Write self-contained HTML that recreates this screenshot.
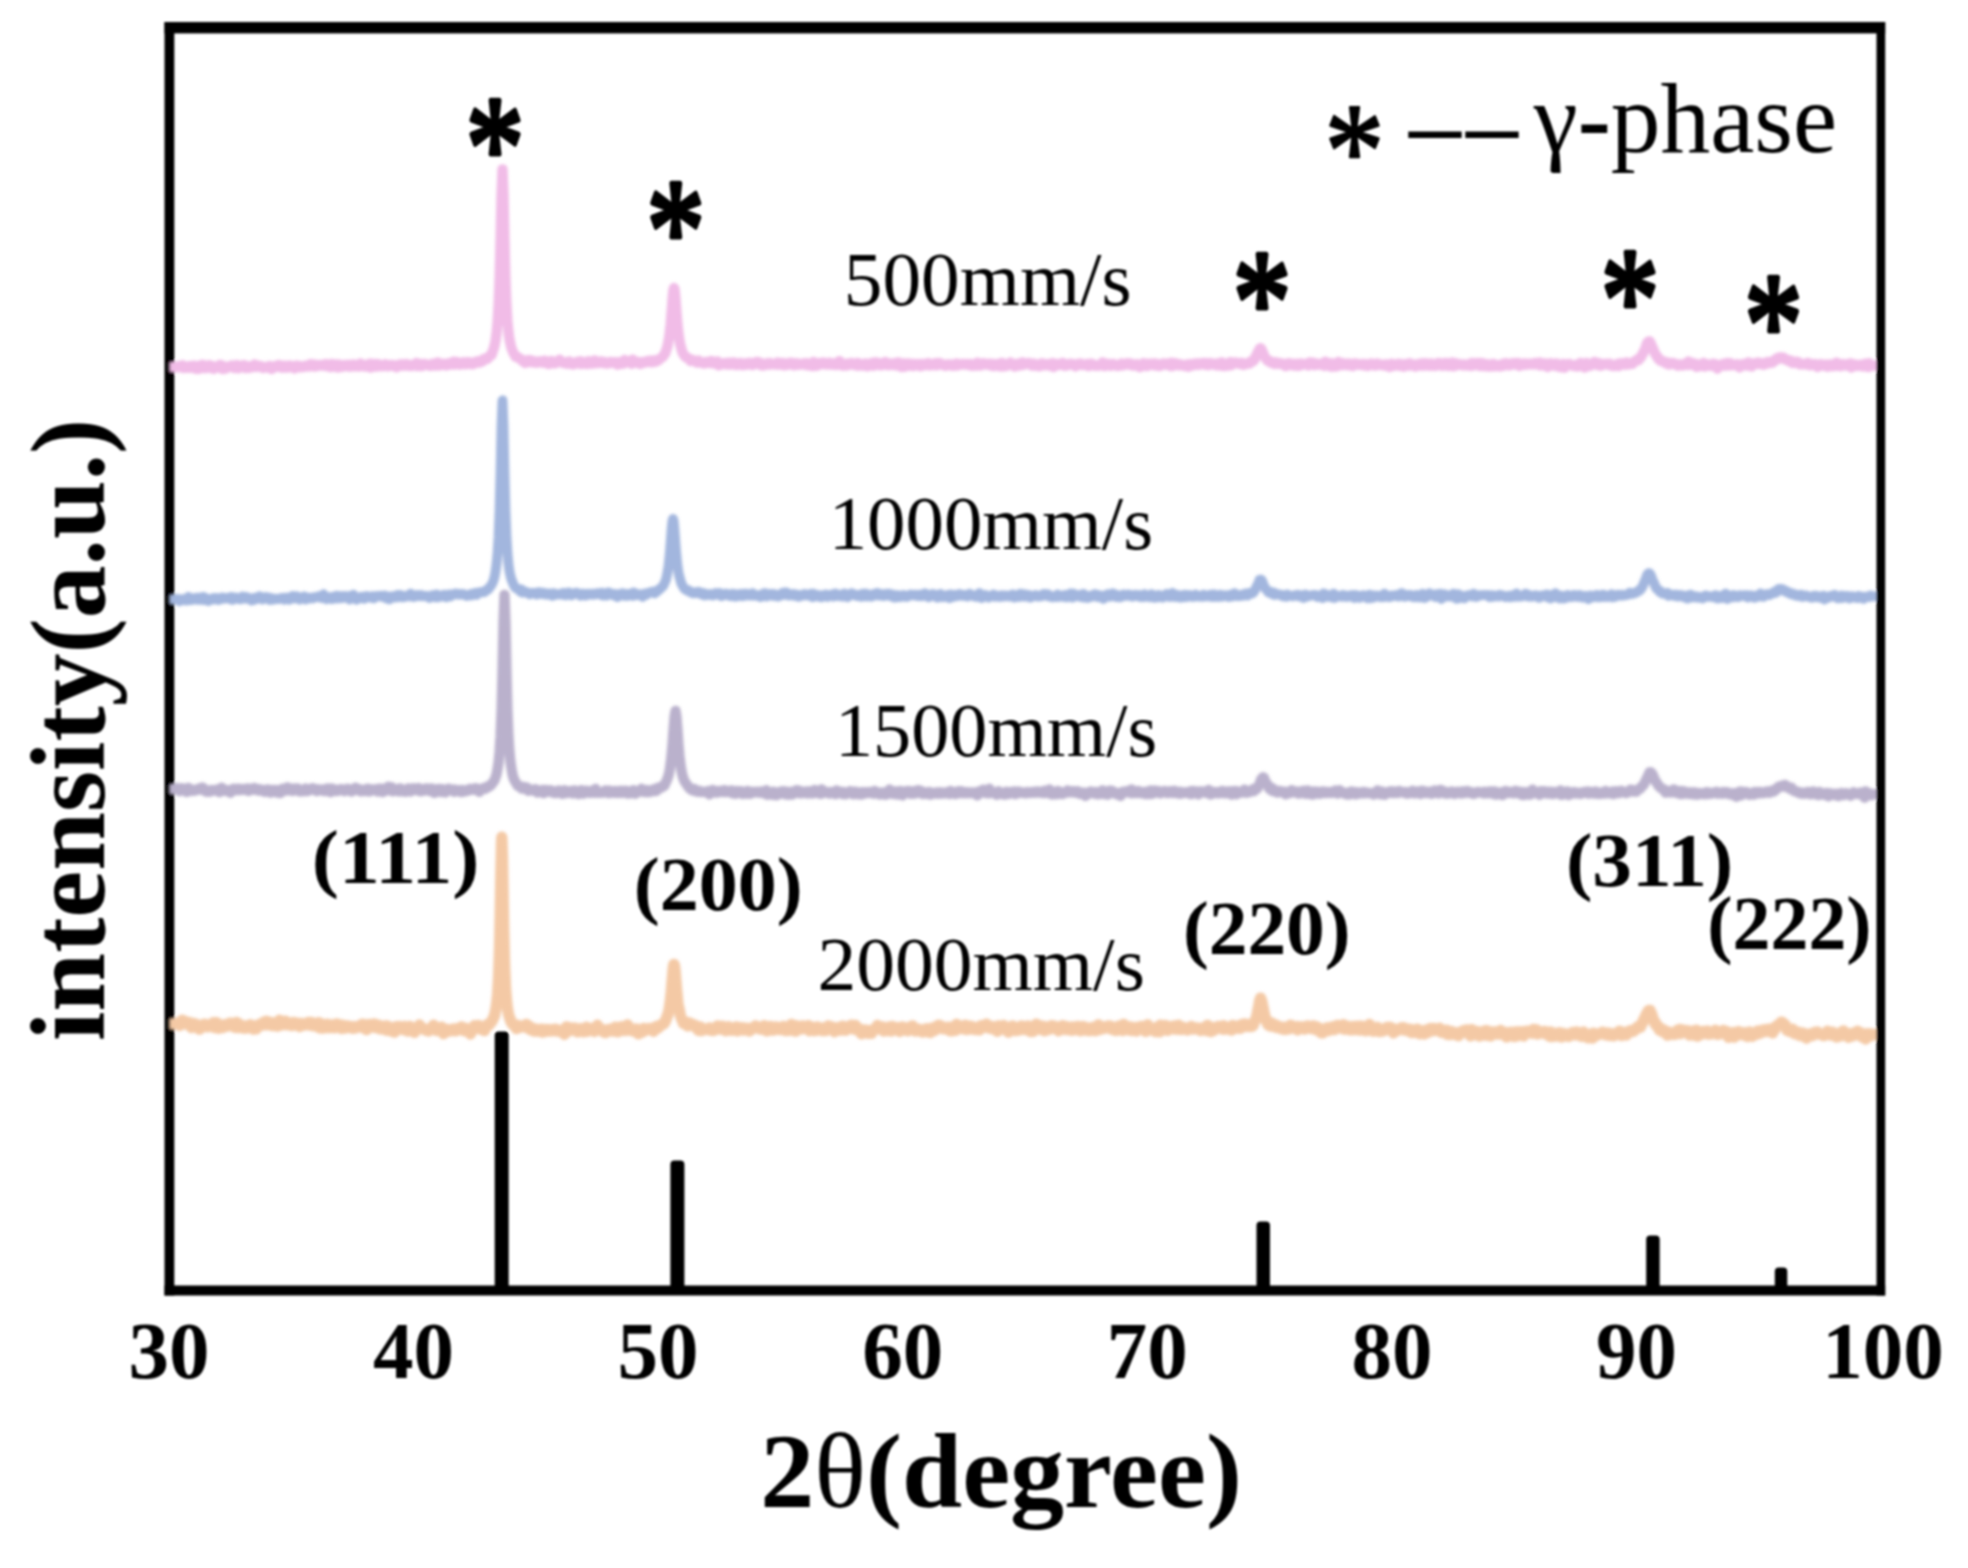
<!DOCTYPE html>
<html lang="en"><head><meta charset="utf-8"><title>XRD patterns</title>
<style>
html,body{margin:0;padding:0;background:#fff;}
body{width:1968px;height:1568px;overflow:hidden;}
svg{display:block;}
text{font-family:"Liberation Serif","DejaVu Serif",serif;fill:#000;}
.b{font-weight:bold;}
.tick{font-weight:bold;font-size:81px;text-anchor:middle;}
.ast{font-weight:normal;text-anchor:middle;}
.cv{fill:none;stroke-linejoin:round;stroke-linecap:butt;}
</style></head><body>
<svg width="1968" height="1568" viewBox="0 0 1968 1568">
<defs><filter id="cvb" x="0" y="0" width="1968" height="1568" filterUnits="userSpaceOnUse"><feGaussianBlur stdDeviation="0.9"/></filter><filter id="soft" x="0" y="0" width="1968" height="1568" filterUnits="userSpaceOnUse"><feGaussianBlur stdDeviation="1.0"/></filter></defs>
<rect width="1968" height="1568" fill="#fff"/>
<g filter="url(#soft)">
<rect x="164.5" y="22" width="9.8" height="1273.5" fill="#000"/>
<rect x="164.5" y="22" width="1720.7" height="11.4" fill="#000"/>
<rect x="164.5" y="1285.5" width="1720.7" height="10" fill="#000"/>
<rect x="494.7" y="1031.5" width="14.0" height="258.5" rx="4" fill="#000"/>
<rect x="670.4" y="1160.5" width="14.0" height="129.5" rx="4" fill="#000"/>
<rect x="1256.5" y="1221.5" width="13.5" height="68.5" rx="4" fill="#000"/>
<rect x="1646.2" y="1235.5" width="13.5" height="54.5" rx="4" fill="#000"/>
<rect x="1774.8" y="1267.5" width="12.5" height="22.5" rx="4" fill="#000"/>
<g filter="url(#cvb)">
<path class="cv" stroke="#f1bce7" stroke-width="10.3" d="M169.5 367.0L175.5 367.0L176.5 366.4L177.5 366.8L178.5 367.2L179.5 366.0L180.5 366.8L181.5 366.7L182.5 365.2L183.5 368.0L184.5 367.7L185.5 366.4L186.5 367.0L187.5 367.7L188.5 366.9L189.5 367.1L190.5 365.9L191.5 367.8L192.5 367.3L193.5 367.3L194.5 365.6L195.5 368.8L196.5 367.3L197.5 366.8L198.5 369.0L199.5 366.9L200.5 365.4L201.5 366.5L202.5 364.7L203.5 368.0L204.5 366.4L205.5 366.1L206.5 368.0L207.5 365.5L208.5 367.7L209.5 365.1L210.5 366.5L211.5 365.9L212.5 368.5L213.5 368.8L214.5 366.6L215.5 367.8L216.5 366.7L217.5 367.5L218.5 366.2L219.5 365.1L220.5 364.9L221.5 367.2L222.5 369.1L223.5 367.3L224.5 366.4L225.5 368.7L226.5 367.0L227.5 366.9L228.5 367.1L229.5 366.8L230.5 366.6L231.5 365.3L232.5 367.1L233.5 366.7L234.5 368.1L235.5 366.5L236.5 364.9L237.5 366.7L238.5 368.4L239.5 366.4L240.5 365.9L241.5 365.6L242.5 365.5L243.5 366.1L244.5 365.2L245.5 368.1L246.5 366.3L247.5 366.8L248.5 367.8L249.5 367.9L250.5 366.1L251.5 366.7L252.5 367.1L253.5 366.2L254.5 364.4L255.5 366.9L256.5 367.0L257.5 366.9L258.5 365.6L259.5 366.4L260.5 366.1L261.5 366.3L262.5 367.8L263.5 368.1L264.5 367.3L265.5 367.3L266.5 367.3L267.5 366.6L268.5 366.5L269.5 365.9L270.5 366.8L271.5 369.0L272.5 367.7L273.5 366.5L274.5 366.4L275.5 365.9L276.5 367.0L277.5 366.8L278.5 364.9L279.5 366.5L280.5 365.5L281.5 367.6L282.5 366.3L283.5 367.7L284.5 365.6L285.5 366.0L286.5 366.8L287.5 367.6L288.5 367.1L289.5 365.4L290.5 366.9L291.5 366.6L292.5 366.3L293.5 366.2L294.5 368.5L295.5 366.1L296.5 365.6L297.5 367.1L298.5 366.6L299.5 366.1L300.5 367.2L301.5 366.9L302.5 366.6L303.5 367.0L304.5 366.4L305.5 365.6L306.5 366.0L307.5 365.9L308.5 366.7L309.5 365.0L310.5 364.1L311.5 366.2L312.5 364.9L313.5 364.3L314.5 366.6L315.5 365.3L316.5 366.4L317.5 365.4L318.5 364.8L319.5 364.8L320.5 365.3L321.5 365.6L322.5 365.0L323.5 365.5L324.5 364.3L325.5 366.0L326.5 364.1L327.5 365.6L328.5 366.4L329.5 366.8L330.5 367.2L331.5 364.0L332.5 366.1L333.5 366.6L334.5 366.2L335.5 364.4L336.5 366.1L337.5 367.5L338.5 364.3L339.5 366.4L340.5 367.1L341.5 365.3L342.5 366.7L343.5 365.1L344.5 365.1L345.5 364.9L346.5 365.8L347.5 365.5L348.5 366.5L349.5 364.6L350.5 365.5L351.5 366.5L352.5 366.0L353.5 364.4L354.5 366.3L355.5 365.2L356.5 366.0L357.5 365.7L358.5 366.7L359.5 365.6L360.5 363.6L361.5 364.0L362.5 366.2L363.5 365.2L364.5 366.5L365.5 365.8L366.5 364.8L367.5 366.5L368.5 364.6L369.5 363.6L370.5 367.7L371.5 363.7L372.5 366.2L373.5 366.6L374.5 365.7L375.5 364.0L376.5 366.7L377.5 364.2L378.5 364.1L379.5 365.1L380.5 366.1L381.5 365.6L382.5 366.1L383.5 364.9L384.5 365.2L385.5 364.3L386.5 365.2L387.5 366.1L388.5 365.2L389.5 365.9L390.5 365.0L391.5 365.0L392.5 365.7L393.5 365.3L394.5 366.0L395.5 365.6L396.5 367.3L397.5 365.4L398.5 365.5L399.5 364.5L400.5 365.4L401.5 365.8L402.5 364.4L403.5 364.9L404.5 365.5L405.5 364.4L406.5 364.0L407.5 365.6L408.5 364.8L409.5 365.2L410.5 366.2L411.5 366.1L412.5 364.7L413.5 364.5L414.5 365.2L415.5 364.8L416.5 363.0L417.5 366.2L418.5 365.0L419.5 365.6L420.5 363.9L421.5 366.3L422.5 364.5L423.5 365.1L424.5 363.8L425.5 365.0L426.5 364.8L427.5 364.7L428.5 365.4L429.5 365.2L430.5 366.0L431.5 364.5L432.5 363.8L433.5 364.8L434.5 365.2L435.5 365.6L436.5 365.1L437.5 362.4L438.5 364.4L439.5 365.5L440.5 364.3L441.5 363.9L442.5 364.5L443.5 363.9L444.5 365.0L445.5 364.3L446.5 365.5L447.5 364.7L448.5 363.2L449.5 364.3L450.5 364.6L451.5 363.3L452.5 363.4L453.5 361.7L454.5 364.6L455.5 363.5L456.5 361.9L457.5 362.2L458.5 363.8L459.5 364.6L460.5 363.8L461.5 364.1L462.5 362.6L463.5 362.3L464.5 364.1L465.5 363.7L466.5 363.2L467.5 364.1L468.5 362.1L469.5 362.4L470.5 363.6L471.5 364.2L472.5 362.9L473.5 364.1L474.5 362.2L475.5 362.8L476.5 362.2L477.5 361.1L478.5 362.2L479.5 362.5L480.5 361.4L481.5 360.8L482.5 361.4L483.5 359.1L484.5 358.7L485.5 358.8L486.5 358.1L487.5 358.8L488.5 357.6L489.5 356.1L490.5 355.3L491.5 355.1L492.5 351.9L493.5 349.2L494.5 345.8L495.5 340.8L496.5 333.5L497.5 322.8L498.5 306.2L499.5 280.6L500.5 241.8L501.5 194.5L502.5 169.4L503.5 194.3L504.5 241.1L505.5 279.8L506.5 305.6L507.5 321.9L508.5 332.3L509.5 339.7L510.5 344.2L511.5 348.4L512.5 350.6L513.5 353.1L514.5 354.6L515.5 356.6L516.5 356.2L517.5 357.0L518.5 357.9L519.5 358.3L520.5 359.0L521.5 360.1L522.5 360.8L523.5 361.8L524.5 360.3L525.5 362.9L526.5 362.6L527.5 361.4L528.5 360.0L529.5 361.8L530.5 362.0L531.5 360.3L532.5 362.3L533.5 362.1L534.5 361.6L535.5 362.6L536.5 362.8L537.5 361.5L538.5 362.2L539.5 361.5L540.5 361.3L541.5 362.2L542.5 362.6L543.5 361.8L544.5 360.6L545.5 363.1L546.5 361.1L547.5 362.7L548.5 364.1L549.5 362.5L550.5 361.4L551.5 360.9L552.5 363.4L553.5 362.3L554.5 362.8L555.5 363.3L556.5 362.1L557.5 362.0L558.5 361.5L559.5 359.6L560.5 361.3L561.5 362.4L562.5 362.5L563.5 363.1L564.5 362.7L565.5 363.1L566.5 363.6L567.5 362.1L568.5 362.6L569.5 361.5L570.5 364.1L571.5 363.1L572.5 363.4L573.5 364.4L574.5 363.9L575.5 362.7L576.5 363.6L577.5 361.6L578.5 363.1L579.5 362.9L580.5 361.2L581.5 364.0L582.5 362.0L583.5 363.3L584.5 362.5L585.5 363.8L586.5 364.1L587.5 362.1L588.5 361.2L589.5 362.7L590.5 363.7L591.5 362.5L592.5 362.4L593.5 363.5L594.5 360.4L595.5 362.1L596.5 361.4L597.5 363.2L598.5 362.2L599.5 361.8L600.5 362.6L601.5 361.5L602.5 362.8L603.5 362.2L604.5 362.6L605.5 362.2L606.5 363.7L607.5 362.8L608.5 363.3L609.5 363.1L610.5 361.8L611.5 362.9L612.5 362.6L613.5 362.7L614.5 362.2L615.5 362.2L616.5 363.3L617.5 364.7L618.5 362.1L619.5 363.5L620.5 362.7L621.5 363.7L622.5 363.3L623.5 363.6L624.5 360.0L625.5 362.0L626.5 361.5L627.5 362.2L628.5 361.4L629.5 361.3L630.5 362.6L631.5 363.8L632.5 359.6L633.5 361.9L634.5 362.7L635.5 362.6L636.5 362.3L637.5 361.7L638.5 362.3L639.5 363.8L640.5 364.0L641.5 363.1L642.5 362.0L643.5 362.5L644.5 361.9L645.5 362.5L646.5 362.0L647.5 361.1L648.5 361.7L649.5 360.6L650.5 362.0L651.5 362.3L652.5 360.4L653.5 361.6L654.5 360.5L655.5 361.7L656.5 361.3L657.5 360.0L658.5 360.3L659.5 359.1L660.5 358.4L661.5 357.7L662.5 357.1L663.5 355.8L664.0 354.9L664.5 353.9L665.0 353.7L665.5 352.7L666.0 350.8L666.5 349.1L667.0 348.1L667.5 346.0L668.0 343.4L668.5 340.7L669.0 337.9L669.5 334.5L670.0 329.6L670.5 325.0L671.0 319.2L671.5 312.7L672.0 306.3L672.5 299.4L673.0 293.7L673.5 289.6L674.0 287.9L674.5 289.2L675.0 293.1L675.5 298.7L676.0 305.2L676.5 312.3L677.0 318.4L677.5 324.2L678.0 329.1L678.5 333.4L679.0 337.3L679.5 340.3L680.0 343.8L680.5 345.4L681.0 347.3L681.5 349.4L682.0 351.2L682.5 352.4L683.0 353.0L683.5 354.4L684.0 354.9L684.5 355.8L685.5 357.0L686.5 357.2L687.5 357.7L688.5 359.1L689.5 359.0L690.5 361.0L691.5 360.3L692.5 359.9L693.5 360.4L694.5 360.6L695.5 361.3L696.5 362.5L697.5 360.7L698.5 360.5L699.5 362.5L700.5 362.2L701.5 362.7L702.5 363.1L703.5 362.7L704.5 363.6L705.5 362.0L706.5 362.8L707.5 362.1L708.5 361.8L709.5 363.2L710.5 363.2L711.5 360.9L712.5 361.6L713.5 362.8L714.5 363.7L715.5 362.2L716.5 362.7L717.5 361.5L718.5 365.4L719.5 363.7L720.5 364.2L721.5 364.0L722.5 364.4L723.5 364.1L724.5 363.2L725.5 364.1L726.5 363.5L727.5 364.7L728.5 362.6L729.5 362.8L730.5 364.0L731.5 364.5L732.5 363.5L733.5 362.6L734.5 363.3L735.5 363.0L736.5 365.1L737.5 364.2L738.5 364.6L739.5 363.8L740.5 362.9L741.5 364.6L742.5 365.2L743.5 364.2L744.5 363.6L745.5 364.8L746.5 363.5L747.5 364.5L748.5 363.0L749.5 362.8L750.5 364.2L751.5 363.9L752.5 365.2L753.5 363.1L754.5 363.5L755.5 362.4L756.5 361.8L757.5 362.0L758.5 364.1L759.5 362.4L760.5 364.8L761.5 365.3L762.5 363.6L763.5 365.5L764.5 364.0L765.5 364.8L766.5 363.6L767.5 364.7L768.5 363.0L769.5 364.5L770.5 363.3L771.5 363.6L772.5 364.4L773.5 363.9L774.5 363.7L775.5 364.3L776.5 364.7L777.5 362.5L778.5 364.5L779.5 364.7L780.5 363.4L781.5 364.5L782.5 362.8L783.5 365.4L784.5 363.8L785.5 363.8L786.5 365.1L787.5 363.8L788.5 364.5L789.5 362.8L790.5 363.4L791.5 362.8L792.5 364.1L793.5 365.4L794.5 364.5L795.5 365.2L796.5 363.2L797.5 363.4L798.5 363.8L799.5 364.7L800.5 364.3L801.5 363.9L802.5 364.2L803.5 363.4L804.5 363.6L805.5 365.0L806.5 363.1L807.5 363.7L808.5 365.4L809.5 364.0L810.5 364.7L811.5 363.5L812.5 366.2L813.5 362.0L814.5 363.1L815.5 363.2L816.5 365.9L817.5 364.6L818.5 363.9L819.5 362.8L820.5 364.4L821.5 364.0L822.5 363.2L823.5 362.5L824.5 363.0L825.5 364.5L826.5 364.5L827.5 364.3L828.5 364.1L829.5 362.6L830.5 364.7L831.5 363.5L832.5 364.3L833.5 364.7L834.5 363.4L835.5 363.1L836.5 365.0L837.5 364.4L838.5 363.5L839.5 361.1L840.5 364.2L841.5 365.2L842.5 365.7L843.5 364.0L844.5 364.0L845.5 364.5L846.5 365.6L847.5 363.5L848.5 364.6L849.5 363.6L850.5 364.7L851.5 362.9L852.5 364.7L853.5 363.9L854.5 364.1L855.5 364.9L856.5 365.7L857.5 362.8L858.5 365.6L859.5 364.9L860.5 364.0L861.5 365.6L862.5 364.4L863.5 365.6L864.5 363.9L865.5 363.5L866.5 365.5L867.5 366.4L868.5 365.1L869.5 365.3L870.5 363.9L871.5 363.2L872.5 364.3L873.5 365.8L874.5 362.4L875.5 363.8L876.5 362.4L877.5 364.3L878.5 365.1L879.5 363.1L880.5 363.8L881.5 365.4L882.5 364.0L883.5 362.8L884.5 362.7L885.5 362.0L886.5 364.9L887.5 363.3L888.5 365.2L889.5 365.0L890.5 363.4L891.5 363.7L892.5 365.1L893.5 364.8L894.5 364.8L895.5 362.9L896.5 365.5L897.5 363.7L898.5 362.5L899.5 364.2L900.5 365.4L901.5 367.0L902.5 364.2L903.5 363.4L904.5 366.8L905.5 364.8L906.5 364.4L907.5 363.4L908.5 363.4L909.5 365.8L910.5 364.1L911.5 364.0L912.5 363.9L913.5 366.1L914.5 363.9L915.5 365.2L916.5 365.0L917.5 365.1L918.5 364.0L919.5 365.6L920.5 366.4L921.5 365.0L922.5 364.1L923.5 363.9L924.5 365.3L925.5 364.8L926.5 364.9L927.5 364.8L928.5 363.1L929.5 365.5L930.5 364.7L931.5 364.2L932.5 364.3L933.5 365.0L934.5 364.0L935.5 363.2L936.5 365.3L937.5 363.9L938.5 363.6L939.5 363.0L940.5 364.7L941.5 363.8L942.5 364.3L943.5 365.2L944.5 364.9L945.5 365.8L946.5 365.2L947.5 364.4L948.5 364.4L949.5 364.3L950.5 365.4L951.5 364.9L952.5 364.5L953.5 365.8L954.5 365.1L955.5 364.5L956.5 363.5L957.5 365.4L958.5 365.0L959.5 364.8L960.5 364.3L961.5 363.8L962.5 364.1L963.5 364.5L964.5 364.2L965.5 364.0L966.5 363.9L967.5 364.9L968.5 365.0L969.5 363.9L970.5 365.4L971.5 365.8L972.5 365.8L973.5 364.8L974.5 364.9L975.5 363.7L976.5 365.6L977.5 362.6L978.5 364.3L979.5 364.3L980.5 365.5L981.5 364.6L982.5 363.6L983.5 363.2L984.5 363.9L985.5 364.6L986.5 364.6L987.5 364.3L988.5 363.8L989.5 364.3L990.5 365.5L991.5 363.7L992.5 364.8L993.5 366.2L994.5 365.3L995.5 364.1L996.5 365.4L997.5 364.1L998.5 364.8L999.5 366.3L1000.5 366.4L1001.5 362.8L1002.5 365.2L1003.5 366.4L1004.5 364.1L1005.5 364.7L1006.5 366.0L1007.5 363.9L1008.5 364.9L1009.5 364.4L1010.5 362.5L1011.5 364.8L1012.5 364.4L1013.5 365.4L1014.5 366.7L1015.5 365.1L1016.5 364.1L1017.5 364.8L1018.5 364.7L1019.5 365.7L1020.5 363.1L1021.5 363.3L1022.5 362.4L1023.5 364.9L1024.5 364.3L1025.5 363.6L1026.5 363.5L1027.5 363.7L1028.5 363.1L1029.5 363.9L1030.5 363.8L1031.5 365.7L1032.5 364.7L1033.5 363.6L1034.5 364.0L1035.5 365.9L1036.5 365.2L1037.5 365.1L1038.5 365.6L1039.5 366.4L1040.5 363.7L1041.5 364.2L1042.5 363.3L1043.5 365.4L1044.5 364.4L1045.5 364.1L1046.5 364.1L1047.5 365.4L1048.5 364.5L1049.5 364.0L1050.5 365.9L1051.5 363.4L1052.5 363.2L1053.5 367.0L1054.5 364.1L1055.5 364.0L1056.5 363.8L1057.5 364.4L1058.5 365.2L1059.5 365.0L1060.5 364.9L1061.5 364.1L1062.5 362.9L1063.5 364.7L1064.5 365.8L1065.5 365.5L1066.5 364.2L1067.5 365.4L1068.5 364.3L1069.5 364.7L1070.5 363.6L1071.5 364.4L1072.5 364.6L1073.5 364.2L1074.5 365.2L1075.5 366.3L1076.5 365.7L1077.5 364.1L1078.5 363.8L1079.5 363.8L1080.5 363.5L1081.5 364.7L1082.5 365.1L1083.5 364.6L1084.5 364.6L1085.5 364.8L1086.5 364.6L1087.5 363.8L1088.5 366.2L1089.5 365.4L1090.5 363.6L1091.5 363.6L1092.5 364.1L1093.5 364.7L1094.5 365.7L1095.5 365.3L1096.5 365.4L1097.5 365.5L1098.5 365.8L1099.5 365.2L1100.5 364.8L1101.5 364.1L1102.5 362.4L1103.5 364.2L1104.5 366.2L1105.5 363.9L1106.5 363.7L1107.5 365.2L1108.5 364.3L1109.5 363.8L1110.5 365.8L1111.5 364.9L1112.5 365.3L1113.5 363.9L1114.5 364.9L1115.5 364.9L1116.5 365.4L1117.5 366.0L1118.5 365.9L1119.5 365.1L1120.5 365.5L1121.5 363.5L1122.5 365.4L1123.5 365.4L1124.5 364.3L1125.5 363.7L1126.5 364.2L1127.5 363.2L1128.5 364.7L1129.5 364.8L1130.5 363.4L1131.5 364.4L1132.5 365.5L1133.5 365.3L1134.5 365.5L1135.5 364.6L1136.5 364.2L1137.5 364.3L1138.5 365.2L1139.5 367.1L1140.5 366.1L1141.5 366.2L1142.5 366.1L1143.5 363.1L1144.5 364.3L1145.5 364.0L1146.5 365.7L1147.5 366.1L1148.5 363.6L1149.5 364.2L1150.5 364.8L1151.5 363.7L1152.5 363.6L1153.5 363.7L1154.5 365.4L1155.5 363.5L1156.5 365.5L1157.5 364.6L1158.5 365.3L1159.5 366.2L1160.5 364.2L1161.5 363.9L1162.5 365.0L1163.5 363.4L1164.5 363.8L1165.5 364.5L1166.5 364.8L1167.5 363.5L1168.5 364.4L1169.5 365.3L1170.5 366.0L1171.5 362.7L1172.5 366.0L1173.5 365.5L1174.5 363.5L1175.5 363.2L1176.5 365.0L1177.5 364.1L1178.5 364.7L1179.5 365.5L1180.5 364.3L1181.5 364.8L1182.5 365.2L1183.5 365.6L1184.5 366.2L1185.5 366.1L1186.5 364.7L1187.5 364.3L1188.5 366.8L1189.5 365.2L1190.5 365.1L1191.5 363.8L1192.5 365.5L1193.5 364.4L1194.5 364.6L1195.5 363.7L1196.5 364.5L1197.5 364.9L1198.5 363.4L1199.5 363.8L1200.5 364.6L1201.5 363.3L1202.5 363.1L1203.5 363.4L1204.5 362.8L1205.5 364.8L1206.5 363.3L1207.5 365.0L1208.5 365.2L1209.5 363.0L1210.5 364.3L1211.5 364.0L1212.5 363.5L1213.5 364.1L1214.5 364.2L1215.5 365.1L1216.5 365.4L1217.5 363.4L1218.5 364.1L1219.5 365.0L1220.5 365.6L1221.5 362.3L1222.5 365.9L1223.5 364.4L1224.5 366.1L1225.5 364.3L1226.5 363.8L1227.5 364.6L1228.5 365.7L1229.5 364.6L1230.5 362.1L1231.5 365.1L1232.5 362.9L1233.5 363.4L1234.5 363.0L1235.5 362.4L1236.5 363.0L1237.5 363.2L1238.5 363.5L1239.5 364.0L1240.5 363.7L1241.5 362.7L1242.5 363.8L1243.5 364.8L1244.5 364.5L1245.5 363.6L1246.5 363.8L1247.5 363.7L1248.5 363.6L1249.5 363.6L1250.5 361.6L1251.5 361.1L1252.5 361.6L1253.5 360.9L1254.5 359.8L1255.5 356.5L1256.5 355.7L1257.5 352.6L1258.5 351.4L1259.5 349.0L1260.5 348.3L1261.5 349.2L1262.5 351.8L1263.5 353.8L1264.5 356.5L1265.5 358.1L1266.5 359.4L1267.5 360.6L1268.5 361.1L1269.5 360.7L1270.5 362.5L1271.5 362.8L1272.5 362.7L1273.5 363.5L1274.5 364.0L1275.5 362.1L1276.5 363.2L1277.5 363.1L1278.5 362.9L1279.5 364.0L1280.5 363.1L1281.5 363.5L1282.5 364.3L1283.5 364.4L1284.5 364.7L1285.5 366.2L1286.5 363.7L1287.5 364.5L1288.5 363.1L1289.5 364.8L1290.5 365.2L1291.5 365.2L1292.5 363.6L1293.5 363.9L1294.5 365.7L1295.5 364.6L1296.5 365.6L1297.5 363.6L1298.5 365.9L1299.5 365.7L1300.5 365.0L1301.5 363.7L1302.5 364.3L1303.5 364.5L1304.5 364.4L1305.5 364.0L1306.5 364.0L1307.5 364.4L1308.5 365.5L1309.5 362.4L1310.5 363.1L1311.5 362.8L1312.5 363.7L1313.5 362.7L1314.5 365.3L1315.5 364.6L1316.5 364.2L1317.5 363.7L1318.5 364.6L1319.5 364.6L1320.5 364.9L1321.5 363.9L1322.5 365.1L1323.5 362.8L1324.5 365.8L1325.5 361.7L1326.5 364.0L1327.5 363.6L1328.5 365.6L1329.5 363.4L1330.5 366.5L1331.5 363.2L1332.5 366.7L1333.5 365.1L1334.5 364.5L1335.5 364.9L1336.5 366.5L1337.5 365.2L1338.5 361.9L1339.5 365.4L1340.5 364.5L1341.5 362.8L1342.5 365.2L1343.5 363.3L1344.5 364.8L1345.5 364.9L1346.5 364.0L1347.5 365.3L1348.5 363.5L1349.5 364.8L1350.5 363.8L1351.5 364.0L1352.5 366.2L1353.5 364.4L1354.5 363.4L1355.5 364.4L1356.5 363.8L1357.5 364.6L1358.5 364.8L1359.5 364.8L1360.5 364.9L1361.5 364.1L1362.5 365.0L1363.5 365.5L1364.5 363.9L1365.5 364.6L1366.5 364.8L1367.5 366.0L1368.5 365.8L1369.5 364.0L1370.5 365.0L1371.5 363.5L1372.5 363.9L1373.5 364.8L1374.5 365.4L1375.5 365.6L1376.5 364.3L1377.5 363.5L1378.5 365.0L1379.5 364.2L1380.5 364.8L1381.5 364.7L1382.5 365.4L1383.5 365.5L1384.5 365.6L1385.5 364.4L1386.5 365.8L1387.5 364.5L1388.5 365.2L1389.5 367.0L1390.5 365.4L1391.5 363.6L1392.5 366.1L1393.5 365.7L1394.5 365.6L1395.5 364.7L1396.5 364.9L1397.5 364.2L1398.5 363.7L1399.5 365.9L1400.5 364.1L1401.5 364.2L1402.5 364.3L1403.5 366.7L1404.5 365.6L1405.5 364.2L1406.5 364.7L1407.5 365.3L1408.5 365.7L1409.5 363.2L1410.5 365.6L1411.5 364.6L1412.5 364.1L1413.5 364.6L1414.5 365.7L1415.5 366.6L1416.5 364.9L1417.5 365.3L1418.5 364.0L1419.5 365.2L1420.5 365.5L1421.5 363.3L1422.5 364.3L1423.5 365.7L1424.5 363.2L1425.5 364.6L1426.5 365.5L1427.5 363.4L1428.5 364.6L1429.5 364.9L1430.5 365.9L1431.5 363.5L1432.5 365.7L1433.5 365.0L1434.5 365.8L1435.5 365.9L1436.5 365.0L1437.5 365.2L1438.5 363.0L1439.5 363.3L1440.5 363.7L1441.5 364.5L1442.5 365.9L1443.5 363.1L1444.5 364.5L1445.5 363.5L1446.5 363.0L1447.5 365.8L1448.5 364.4L1449.5 365.9L1450.5 365.5L1451.5 363.3L1452.5 362.5L1453.5 366.4L1454.5 363.9L1455.5 363.3L1456.5 365.3L1457.5 364.8L1458.5 364.0L1459.5 364.3L1460.5 364.8L1461.5 364.7L1462.5 365.4L1463.5 364.3L1464.5 364.3L1465.5 365.3L1466.5 364.9L1467.5 365.7L1468.5 364.3L1469.5 364.4L1470.5 363.3L1471.5 366.0L1472.5 363.0L1473.5 364.7L1474.5 363.5L1475.5 364.9L1476.5 365.3L1477.5 362.9L1478.5 364.4L1479.5 363.0L1480.5 366.1L1481.5 364.3L1482.5 363.2L1483.5 364.2L1484.5 366.1L1485.5 366.3L1486.5 366.2L1487.5 364.1L1488.5 364.8L1489.5 366.7L1490.5 364.3L1491.5 364.8L1492.5 364.1L1493.5 363.9L1494.5 366.4L1495.5 365.7L1496.5 365.5L1497.5 365.5L1498.5 366.0L1499.5 366.5L1500.5 364.9L1501.5 364.7L1502.5 363.9L1503.5 365.8L1504.5 364.3L1505.5 363.2L1506.5 364.6L1507.5 364.9L1508.5 365.3L1509.5 365.5L1510.5 363.5L1511.5 363.6L1512.5 364.0L1513.5 363.1L1514.5 364.3L1515.5 364.7L1516.5 364.3L1517.5 362.8L1518.5 363.4L1519.5 366.0L1520.5 363.6L1521.5 365.2L1522.5 365.0L1523.5 364.1L1524.5 363.5L1525.5 364.8L1526.5 363.7L1527.5 364.2L1528.5 364.4L1529.5 363.7L1530.5 364.4L1531.5 364.4L1532.5 363.4L1533.5 364.5L1534.5 364.0L1535.5 362.9L1536.5 364.4L1537.5 364.5L1538.5 363.9L1539.5 362.5L1540.5 365.5L1541.5 365.4L1542.5 365.3L1543.5 364.8L1544.5 363.4L1545.5 364.7L1546.5 363.7L1547.5 367.0L1548.5 364.2L1549.5 365.3L1550.5 363.2L1551.5 363.6L1552.5 364.5L1553.5 365.7L1554.5 365.6L1555.5 365.4L1556.5 363.4L1557.5 366.4L1558.5 364.5L1559.5 366.8L1560.5 367.2L1561.5 366.0L1562.5 366.1L1563.5 363.9L1564.5 367.7L1565.5 365.3L1566.5 365.9L1567.5 364.1L1568.5 365.1L1569.5 363.9L1570.5 364.7L1571.5 365.0L1572.5 365.2L1573.5 366.2L1574.5 365.3L1575.5 365.1L1576.5 364.9L1577.5 366.6L1578.5 364.2L1579.5 365.9L1580.5 362.9L1581.5 363.8L1582.5 365.0L1583.5 364.5L1584.5 367.5L1585.5 367.0L1586.5 363.0L1587.5 363.5L1588.5 364.3L1589.5 366.1L1590.5 365.5L1591.5 365.0L1592.5 363.1L1593.5 363.7L1594.5 362.0L1595.5 363.0L1596.5 364.8L1597.5 365.1L1598.5 363.0L1599.5 364.5L1600.5 365.8L1601.5 364.4L1602.5 363.9L1603.5 364.7L1604.5 364.6L1605.5 364.2L1606.5 363.7L1607.5 363.9L1608.5 364.2L1609.5 363.6L1610.5 365.4L1611.5 365.0L1612.5 365.1L1613.5 366.1L1614.5 365.7L1615.5 365.5L1616.5 364.6L1617.5 364.0L1618.5 366.1L1619.5 363.4L1620.5 363.4L1621.5 363.2L1622.5 363.9L1623.5 364.2L1624.5 364.7L1625.5 363.6L1626.5 362.5L1627.5 364.2L1628.5 364.5L1629.5 363.6L1630.5 363.3L1631.5 363.7L1632.5 363.8L1633.5 362.3L1634.5 361.2L1635.5 361.2L1636.5 360.8L1637.5 359.4L1638.5 360.1L1639.0 358.7L1639.5 358.6L1640.0 358.0L1640.5 357.1L1641.0 357.3L1641.5 355.7L1642.0 354.9L1642.5 354.4L1643.0 353.5L1643.5 352.3L1644.0 350.9L1644.5 350.2L1645.0 349.2L1645.5 348.1L1646.0 346.2L1646.5 344.9L1647.0 343.5L1647.5 342.4L1648.0 342.0L1648.5 341.7L1649.0 341.3L1649.5 341.4L1650.0 341.9L1650.5 343.0L1651.0 343.9L1651.5 345.3L1652.0 346.2L1652.5 347.7L1653.0 348.7L1653.5 349.5L1654.0 351.4L1654.5 352.6L1655.0 353.0L1655.5 354.5L1656.0 355.3L1656.5 355.9L1657.0 356.9L1657.5 356.8L1658.0 358.3L1658.5 359.3L1659.0 358.5L1659.5 359.2L1660.5 360.9L1661.5 360.9L1662.5 361.1L1663.5 361.3L1664.5 362.6L1665.5 362.7L1666.5 363.6L1667.5 362.3L1668.5 364.5L1669.5 363.4L1670.5 364.3L1671.5 363.3L1672.5 363.0L1673.5 363.6L1674.5 363.4L1675.5 364.0L1676.5 365.1L1677.5 365.7L1678.5 364.9L1679.5 364.5L1680.5 364.5L1681.5 365.2L1682.5 365.5L1683.5 364.3L1684.5 364.2L1685.5 363.5L1686.5 364.4L1687.5 365.2L1688.5 361.5L1689.5 364.5L1690.5 363.9L1691.5 362.6L1692.5 364.9L1693.5 364.7L1694.5 365.2L1695.5 363.7L1696.5 366.9L1697.5 365.1L1698.5 364.7L1699.5 366.4L1700.5 365.4L1701.5 365.6L1702.5 365.8L1703.5 362.9L1704.5 366.5L1705.5 364.6L1706.5 365.2L1707.5 365.7L1708.5 364.4L1709.5 365.3L1710.5 365.9L1711.5 365.3L1712.5 365.8L1713.5 363.6L1714.5 364.1L1715.5 364.1L1716.5 365.4L1717.5 368.6L1718.5 365.5L1719.5 365.1L1720.5 365.1L1721.5 365.7L1722.5 365.4L1723.5 363.7L1724.5 365.7L1725.5 365.0L1726.5 365.6L1727.5 362.9L1728.5 363.2L1729.5 365.3L1730.5 363.2L1731.5 365.3L1732.5 365.2L1733.5 365.0L1734.5 365.0L1735.5 364.9L1736.5 364.9L1737.5 364.1L1738.5 364.6L1739.5 367.4L1740.5 365.8L1741.5 365.3L1742.5 365.1L1743.5 364.0L1744.5 364.9L1745.5 364.6L1746.5 365.6L1747.5 363.8L1748.5 362.4L1749.5 363.9L1750.5 365.0L1751.5 366.6L1752.5 365.4L1753.5 363.8L1754.5 364.1L1755.5 363.3L1756.5 363.8L1757.5 363.3L1758.5 362.5L1759.5 364.2L1760.5 363.7L1761.5 363.2L1762.5 363.2L1763.5 364.8L1764.5 363.2L1765.5 363.0L1766.5 363.8L1767.5 361.8L1768.5 363.4L1769.5 362.3L1770.5 362.0L1771.5 362.1L1772.5 362.7L1773.5 360.8L1774.5 361.1L1775.5 360.2L1776.5 358.6L1777.5 359.2L1778.5 357.8L1779.5 357.4L1780.5 357.5L1781.5 357.4L1782.5 358.2L1783.5 357.8L1784.5 359.3L1785.5 359.4L1786.5 359.6L1787.5 360.0L1788.5 361.1L1789.5 360.3L1790.5 360.5L1791.5 361.7L1792.5 363.0L1793.5 362.9L1794.5 363.0L1795.5 362.8L1796.5 361.6L1797.5 363.1L1798.5 362.2L1799.5 364.3L1800.5 363.8L1801.5 363.9L1802.5 364.4L1803.5 364.4L1804.5 364.4L1805.5 364.4L1806.5 363.4L1807.5 362.8L1808.5 364.5L1809.5 365.4L1810.5 365.0L1811.5 364.1L1812.5 365.0L1813.5 364.2L1814.5 365.0L1815.5 364.3L1816.5 365.2L1817.5 367.0L1818.5 365.7L1819.5 366.2L1820.5 364.2L1821.5 364.3L1822.5 365.1L1823.5 365.7L1824.5 364.9L1825.5 366.1L1826.5 364.6L1827.5 366.7L1828.5 366.5L1829.5 364.3L1830.5 365.9L1831.5 365.2L1832.5 366.3L1833.5 365.0L1834.5 365.8L1835.5 365.9L1836.5 362.6L1837.5 363.4L1838.5 365.5L1839.5 365.2L1840.5 366.2L1841.5 365.6L1842.5 364.1L1843.5 365.5L1844.5 364.6L1845.5 365.2L1846.5 365.0L1847.5 365.8L1848.5 364.0L1849.5 364.4L1850.5 363.3L1851.5 367.6L1852.5 364.5L1853.5 364.7L1854.5 364.4L1855.5 364.8L1856.5 364.8L1857.5 366.0L1858.5 365.5L1859.5 365.6L1860.5 364.7L1861.5 365.2L1862.5 366.5L1863.5 365.3L1864.5 365.8L1865.5 363.7L1866.5 366.3L1867.5 366.1L1868.5 367.2L1869.5 363.2L1870.5 365.9L1871.5 365.7L1872.0 365.7L1878.0 365.7"/>
<path class="cv" stroke="#a2b6de" stroke-width="9.8" d="M169.5 599.3L175.5 599.3L176.5 598.7L177.5 599.2L178.5 600.4L179.5 601.3L180.5 599.1L181.5 600.1L182.5 600.1L183.5 599.2L184.5 599.9L185.5 599.6L186.5 600.7L187.5 598.1L188.5 596.8L189.5 599.2L190.5 600.1L191.5 600.1L192.5 598.3L193.5 599.4L194.5 598.2L195.5 599.5L196.5 598.0L197.5 597.7L198.5 599.9L199.5 597.7L200.5 597.6L201.5 599.9L202.5 599.2L203.5 596.8L204.5 600.2L205.5 597.9L206.5 598.8L207.5 599.0L208.5 601.1L209.5 599.1L210.5 600.1L211.5 599.0L212.5 599.7L213.5 597.9L214.5 599.4L215.5 598.6L216.5 598.0L217.5 599.3L218.5 600.0L219.5 599.3L220.5 598.4L221.5 599.2L222.5 597.3L223.5 598.5L224.5 598.7L225.5 598.3L226.5 597.9L227.5 598.3L228.5 597.6L229.5 598.1L230.5 599.3L231.5 596.8L232.5 599.8L233.5 599.0L234.5 598.8L235.5 597.5L236.5 598.2L237.5 597.9L238.5 599.0L239.5 598.8L240.5 599.3L241.5 598.4L242.5 596.4L243.5 597.5L244.5 598.2L245.5 598.8L246.5 597.0L247.5 598.3L248.5 598.9L249.5 598.1L250.5 598.3L251.5 600.6L252.5 598.3L253.5 600.2L254.5 598.6L255.5 597.6L256.5 599.0L257.5 597.7L258.5 598.1L259.5 596.1L260.5 598.7L261.5 597.6L262.5 599.5L263.5 598.3L264.5 597.7L265.5 597.1L266.5 598.4L267.5 598.0L268.5 597.5L269.5 600.0L270.5 598.0L271.5 598.9L272.5 599.7L273.5 598.7L274.5 598.9L275.5 598.6L276.5 599.1L277.5 598.9L278.5 599.0L279.5 598.7L280.5 598.1L281.5 598.1L282.5 597.9L283.5 598.6L284.5 599.8L285.5 597.6L286.5 598.0L287.5 597.7L288.5 598.6L289.5 599.8L290.5 598.2L291.5 598.5L292.5 595.9L293.5 598.1L294.5 598.5L295.5 597.2L296.5 596.1L297.5 598.1L298.5 597.5L299.5 599.5L300.5 597.3L301.5 597.7L302.5 597.5L303.5 598.2L304.5 596.3L305.5 599.5L306.5 598.8L307.5 597.9L308.5 597.7L309.5 598.5L310.5 598.4L311.5 597.6L312.5 597.9L313.5 598.2L314.5 597.2L315.5 597.2L316.5 597.1L317.5 597.2L318.5 596.2L319.5 596.6L320.5 597.8L321.5 598.0L322.5 597.5L323.5 594.2L324.5 596.1L325.5 597.9L326.5 599.2L327.5 598.7L328.5 597.2L329.5 597.2L330.5 597.1L331.5 599.1L332.5 597.6L333.5 596.6L334.5 598.6L335.5 598.4L336.5 595.6L337.5 597.1L338.5 598.5L339.5 598.3L340.5 596.0L341.5 597.2L342.5 598.1L343.5 597.5L344.5 596.0L345.5 596.7L346.5 597.4L347.5 597.4L348.5 596.1L349.5 599.5L350.5 597.3L351.5 595.7L352.5 596.9L353.5 594.7L354.5 596.9L355.5 597.4L356.5 599.8L357.5 597.8L358.5 597.8L359.5 598.1L360.5 597.4L361.5 596.6L362.5 598.4L363.5 597.7L364.5 598.7L365.5 598.2L366.5 596.1L367.5 596.5L368.5 596.6L369.5 596.6L370.5 597.5L371.5 596.9L372.5 596.1L373.5 598.4L374.5 598.2L375.5 597.0L376.5 595.9L377.5 596.3L378.5 596.2L379.5 596.0L380.5 595.7L381.5 596.9L382.5 596.8L383.5 597.1L384.5 595.5L385.5 596.9L386.5 598.6L387.5 596.9L388.5 596.4L389.5 599.4L390.5 597.0L391.5 596.3L392.5 597.6L393.5 596.1L394.5 596.3L395.5 597.6L396.5 595.9L397.5 594.8L398.5 596.9L399.5 597.0L400.5 594.9L401.5 596.0L402.5 597.3L403.5 596.5L404.5 597.0L405.5 596.1L406.5 595.7L407.5 595.8L408.5 596.1L409.5 596.5L410.5 593.6L411.5 594.4L412.5 596.2L413.5 596.9L414.5 595.7L415.5 596.4L416.5 595.2L417.5 594.9L418.5 596.2L419.5 596.1L420.5 595.7L421.5 595.0L422.5 596.4L423.5 596.1L424.5 595.8L425.5 596.1L426.5 596.0L427.5 596.9L428.5 596.6L429.5 597.9L430.5 597.5L431.5 596.1L432.5 595.1L433.5 596.8L434.5 595.5L435.5 597.4L436.5 594.5L437.5 595.5L438.5 597.3L439.5 595.8L440.5 596.5L441.5 596.2L442.5 595.2L443.5 596.5L444.5 594.8L445.5 595.1L446.5 597.3L447.5 595.1L448.5 595.6L449.5 594.3L450.5 596.5L451.5 594.3L452.5 594.4L453.5 594.5L454.5 594.2L455.5 593.5L456.5 594.4L457.5 594.3L458.5 594.7L459.5 593.9L460.5 593.9L461.5 594.4L462.5 594.7L463.5 594.1L464.5 595.1L465.5 595.0L466.5 595.9L467.5 595.3L468.5 595.2L469.5 595.5L470.5 594.0L471.5 595.4L472.5 594.4L473.5 593.6L474.5 594.2L475.5 592.9L476.5 594.9L477.5 593.6L478.5 592.3L479.5 592.4L480.5 592.4L481.5 591.9L482.5 592.3L483.5 592.1L484.5 592.0L485.5 591.1L486.5 589.8L487.5 590.0L488.5 589.2L489.5 587.1L490.5 586.5L491.5 584.9L492.5 582.9L493.5 580.6L494.5 576.8L495.5 571.6L496.5 564.2L497.5 553.5L498.5 537.2L499.5 511.6L500.5 473.0L501.5 425.6L502.5 400.5L503.5 425.7L504.5 473.0L505.5 511.5L506.5 537.0L507.5 553.3L508.5 564.1L509.5 571.6L510.5 576.0L511.5 579.7L512.5 581.9L513.5 584.7L514.5 586.3L515.5 587.9L516.5 588.4L517.5 589.0L518.5 589.0L519.5 590.5L520.5 591.6L521.5 589.4L522.5 592.6L523.5 591.2L524.5 592.2L525.5 591.7L526.5 592.2L527.5 593.1L528.5 592.6L529.5 594.4L530.5 593.3L531.5 593.6L532.5 592.8L533.5 592.9L534.5 593.0L535.5 593.8L536.5 594.7L537.5 593.2L538.5 592.3L539.5 593.1L540.5 592.6L541.5 594.0L542.5 593.7L543.5 592.7L544.5 593.4L545.5 594.6L546.5 594.5L547.5 593.5L548.5 594.5L549.5 594.3L550.5 593.6L551.5 594.3L552.5 595.9L553.5 593.2L554.5 595.0L555.5 594.0L556.5 594.7L557.5 594.4L558.5 594.3L559.5 594.0L560.5 594.1L561.5 594.7L562.5 594.5L563.5 592.8L564.5 594.6L565.5 595.4L566.5 595.1L567.5 594.2L568.5 592.4L569.5 594.5L570.5 594.7L571.5 595.5L572.5 593.4L573.5 594.0L574.5 593.9L575.5 593.9L576.5 592.6L577.5 593.8L578.5 593.9L579.5 594.0L580.5 595.8L581.5 593.6L582.5 593.7L583.5 595.1L584.5 593.8L585.5 595.7L586.5 594.8L587.5 593.8L588.5 593.7L589.5 594.5L590.5 594.2L591.5 594.5L592.5 593.9L593.5 594.9L594.5 593.6L595.5 593.8L596.5 594.2L597.5 593.2L598.5 594.1L599.5 594.1L600.5 593.0L601.5 592.8L602.5 595.6L603.5 594.2L604.5 594.2L605.5 593.6L606.5 595.6L607.5 594.0L608.5 592.3L609.5 594.5L610.5 593.2L611.5 594.4L612.5 594.1L613.5 595.5L614.5 594.8L615.5 594.0L616.5 595.7L617.5 597.2L618.5 594.2L619.5 595.5L620.5 594.9L621.5 594.8L622.5 593.3L623.5 593.6L624.5 595.9L625.5 594.6L626.5 593.9L627.5 595.9L628.5 595.3L629.5 595.0L630.5 593.6L631.5 594.5L632.5 595.9L633.5 592.5L634.5 592.9L635.5 593.6L636.5 595.1L637.5 594.6L638.5 594.6L639.5 594.4L640.5 594.1L641.5 594.9L642.5 596.8L643.5 594.2L644.5 594.8L645.5 593.3L646.5 594.8L647.5 593.3L648.5 593.1L649.5 592.5L650.5 592.2L651.5 592.4L652.5 591.9L653.5 591.4L654.5 593.3L655.5 591.9L656.5 592.1L657.5 591.2L658.5 589.6L659.5 589.6L660.5 588.4L661.5 587.5L662.5 586.7L663.0 586.1L663.5 585.4L664.0 584.2L664.5 583.0L665.0 581.9L665.5 580.9L666.0 579.4L666.5 577.2L667.0 574.8L667.5 572.2L668.0 569.0L668.5 565.6L669.0 561.4L669.5 556.3L670.0 550.6L670.5 544.0L671.0 537.0L671.5 530.3L672.0 524.6L672.5 520.5L673.0 519.0L673.5 520.3L674.0 524.4L674.5 530.3L675.0 537.2L675.5 544.3L676.0 550.5L676.5 556.0L677.0 561.2L677.5 566.0L678.0 569.2L678.5 572.5L679.0 574.7L679.5 577.3L680.0 578.5L680.5 580.5L681.0 582.7L681.5 583.4L682.0 584.8L682.5 585.6L683.0 586.4L683.5 587.3L684.5 588.9L685.5 589.5L686.5 590.2L687.5 590.2L688.5 590.2L689.5 591.8L690.5 591.8L691.5 592.2L692.5 593.2L693.5 593.3L694.5 592.2L695.5 593.1L696.5 593.2L697.5 593.2L698.5 591.7L699.5 592.9L700.5 593.8L701.5 594.5L702.5 593.6L703.5 593.0L704.5 595.5L705.5 594.3L706.5 593.9L707.5 594.9L708.5 595.0L709.5 594.4L710.5 594.0L711.5 594.2L712.5 595.3L713.5 594.5L714.5 595.1L715.5 593.0L716.5 594.2L717.5 594.6L718.5 594.4L719.5 593.0L720.5 594.3L721.5 596.2L722.5 595.3L723.5 594.6L724.5 594.3L725.5 593.6L726.5 595.1L727.5 594.1L728.5 594.8L729.5 595.9L730.5 596.2L731.5 595.7L732.5 593.6L733.5 594.7L734.5 596.5L735.5 594.1L736.5 596.5L737.5 594.9L738.5 596.0L739.5 594.7L740.5 593.9L741.5 594.0L742.5 596.3L743.5 594.6L744.5 593.7L745.5 595.6L746.5 593.7L747.5 594.8L748.5 595.3L749.5 595.4L750.5 595.6L751.5 595.1L752.5 593.1L753.5 595.7L754.5 595.3L755.5 595.0L756.5 595.8L757.5 596.0L758.5 595.4L759.5 596.4L760.5 597.2L761.5 595.0L762.5 594.4L763.5 593.3L764.5 595.3L765.5 593.1L766.5 596.5L767.5 595.8L768.5 594.3L769.5 595.3L770.5 593.9L771.5 593.8L772.5 595.8L773.5 594.0L774.5 595.1L775.5 594.6L776.5 596.3L777.5 595.2L778.5 596.6L779.5 595.9L780.5 594.3L781.5 593.8L782.5 592.8L783.5 595.0L784.5 592.3L785.5 594.1L786.5 592.4L787.5 594.3L788.5 595.6L789.5 594.0L790.5 594.5L791.5 594.9L792.5 595.6L793.5 594.0L794.5 595.8L795.5 595.7L796.5 594.6L797.5 594.6L798.5 596.8L799.5 596.5L800.5 596.1L801.5 595.0L802.5 595.5L803.5 594.5L804.5 594.0L805.5 595.3L806.5 595.3L807.5 594.7L808.5 594.5L809.5 595.9L810.5 594.9L811.5 593.7L812.5 597.2L813.5 593.7L814.5 595.6L815.5 594.5L816.5 596.1L817.5 595.6L818.5 596.5L819.5 595.6L820.5 595.1L821.5 597.3L822.5 595.7L823.5 595.5L824.5 595.3L825.5 594.6L826.5 595.5L827.5 596.9L828.5 596.5L829.5 595.1L830.5 595.5L831.5 595.6L832.5 594.3L833.5 596.6L834.5 595.4L835.5 593.5L836.5 596.0L837.5 594.5L838.5 595.8L839.5 596.1L840.5 594.9L841.5 595.5L842.5 596.6L843.5 594.0L844.5 593.4L845.5 595.2L846.5 595.0L847.5 597.3L848.5 596.2L849.5 595.7L850.5 595.1L851.5 593.2L852.5 593.8L853.5 594.8L854.5 595.4L855.5 594.8L856.5 595.5L857.5 596.2L858.5 594.9L859.5 595.3L860.5 594.7L861.5 596.9L862.5 593.7L863.5 596.1L864.5 596.3L865.5 593.5L866.5 595.0L867.5 596.6L868.5 594.4L869.5 594.8L870.5 595.3L871.5 596.6L872.5 596.0L873.5 594.5L874.5 593.7L875.5 593.5L876.5 595.3L877.5 592.9L878.5 594.4L879.5 595.7L880.5 593.9L881.5 594.9L882.5 595.2L883.5 596.1L884.5 594.0L885.5 595.4L886.5 595.2L887.5 595.3L888.5 593.6L889.5 595.8L890.5 594.2L891.5 595.1L892.5 594.5L893.5 597.4L894.5 595.6L895.5 597.7L896.5 595.1L897.5 595.3L898.5 597.1L899.5 595.3L900.5 596.1L901.5 596.8L902.5 595.4L903.5 595.0L904.5 595.5L905.5 596.6L906.5 596.0L907.5 596.8L908.5 595.4L909.5 595.1L910.5 594.4L911.5 595.2L912.5 594.9L913.5 595.3L914.5 594.6L915.5 594.8L916.5 595.3L917.5 596.2L918.5 594.8L919.5 594.6L920.5 596.1L921.5 596.3L922.5 594.7L923.5 594.8L924.5 593.3L925.5 593.3L926.5 595.1L927.5 596.6L928.5 597.2L929.5 596.2L930.5 595.1L931.5 596.0L932.5 594.0L933.5 595.5L934.5 594.5L935.5 595.7L936.5 597.1L937.5 597.7L938.5 595.7L939.5 595.9L940.5 593.8L941.5 595.0L942.5 597.1L943.5 596.7L944.5 596.3L945.5 595.9L946.5 597.0L947.5 595.0L948.5 595.1L949.5 598.2L950.5 594.3L951.5 595.7L952.5 594.9L953.5 596.9L954.5 595.0L955.5 594.9L956.5 595.0L957.5 596.1L958.5 594.4L959.5 594.0L960.5 595.2L961.5 595.0L962.5 595.8L963.5 595.0L964.5 594.9L965.5 595.8L966.5 596.0L967.5 596.5L968.5 595.6L969.5 593.7L970.5 595.5L971.5 595.7L972.5 595.7L973.5 596.1L974.5 595.4L975.5 596.8L976.5 595.3L977.5 596.9L978.5 594.4L979.5 593.1L980.5 594.3L981.5 598.1L982.5 595.1L983.5 595.3L984.5 595.6L985.5 595.0L986.5 595.7L987.5 595.6L988.5 597.6L989.5 596.9L990.5 596.0L991.5 596.4L992.5 596.3L993.5 594.5L994.5 596.8L995.5 595.2L996.5 596.6L997.5 595.9L998.5 596.6L999.5 597.0L1000.5 596.4L1001.5 595.3L1002.5 595.7L1003.5 596.6L1004.5 595.5L1005.5 595.4L1006.5 595.7L1007.5 595.6L1008.5 596.6L1009.5 595.7L1010.5 596.3L1011.5 595.5L1012.5 594.5L1013.5 597.2L1014.5 597.5L1015.5 595.9L1016.5 597.0L1017.5 596.3L1018.5 594.6L1019.5 596.9L1020.5 593.6L1021.5 595.4L1022.5 595.9L1023.5 594.1L1024.5 596.7L1025.5 594.5L1026.5 596.5L1027.5 595.0L1028.5 595.9L1029.5 595.1L1030.5 597.7L1031.5 595.9L1032.5 596.5L1033.5 596.3L1034.5 595.7L1035.5 595.1L1036.5 595.9L1037.5 596.7L1038.5 596.7L1039.5 596.2L1040.5 595.6L1041.5 596.3L1042.5 594.5L1043.5 595.6L1044.5 593.8L1045.5 595.1L1046.5 595.6L1047.5 594.2L1048.5 594.5L1049.5 596.5L1050.5 596.3L1051.5 597.0L1052.5 597.3L1053.5 596.6L1054.5 596.8L1055.5 596.2L1056.5 597.1L1057.5 594.4L1058.5 595.7L1059.5 596.8L1060.5 596.6L1061.5 595.9L1062.5 595.5L1063.5 596.6L1064.5 595.8L1065.5 594.9L1066.5 597.4L1067.5 595.7L1068.5 596.4L1069.5 594.6L1070.5 593.5L1071.5 596.5L1072.5 597.6L1073.5 593.6L1074.5 595.5L1075.5 596.3L1076.5 596.0L1077.5 596.0L1078.5 595.9L1079.5 595.0L1080.5 597.1L1081.5 597.0L1082.5 596.5L1083.5 593.8L1084.5 597.7L1085.5 596.1L1086.5 596.6L1087.5 598.0L1088.5 597.3L1089.5 595.9L1090.5 597.0L1091.5 596.5L1092.5 595.3L1093.5 596.0L1094.5 594.1L1095.5 594.3L1096.5 596.0L1097.5 597.2L1098.5 594.9L1099.5 597.1L1100.5 596.1L1101.5 597.7L1102.5 595.6L1103.5 598.9L1104.5 596.4L1105.5 595.7L1106.5 596.2L1107.5 594.2L1108.5 596.5L1109.5 595.8L1110.5 596.7L1111.5 595.8L1112.5 593.4L1113.5 593.6L1114.5 595.7L1115.5 595.0L1116.5 597.2L1117.5 594.9L1118.5 596.6L1119.5 595.7L1120.5 597.4L1121.5 595.8L1122.5 595.7L1123.5 594.3L1124.5 595.7L1125.5 595.8L1126.5 595.1L1127.5 595.9L1128.5 594.4L1129.5 595.2L1130.5 595.9L1131.5 595.1L1132.5 596.7L1133.5 596.2L1134.5 595.1L1135.5 594.8L1136.5 595.9L1137.5 595.2L1138.5 595.7L1139.5 595.0L1140.5 597.1L1141.5 596.6L1142.5 596.7L1143.5 597.2L1144.5 594.1L1145.5 596.3L1146.5 596.0L1147.5 596.8L1148.5 596.6L1149.5 596.7L1150.5 597.3L1151.5 594.2L1152.5 595.1L1153.5 597.4L1154.5 597.7L1155.5 595.5L1156.5 597.4L1157.5 597.4L1158.5 594.9L1159.5 595.7L1160.5 596.4L1161.5 595.8L1162.5 597.6L1163.5 596.2L1164.5 596.3L1165.5 594.7L1166.5 594.0L1167.5 594.7L1168.5 596.6L1169.5 597.0L1170.5 594.4L1171.5 595.1L1172.5 592.9L1173.5 596.8L1174.5 594.3L1175.5 596.8L1176.5 597.1L1177.5 594.8L1178.5 595.4L1179.5 597.1L1180.5 597.7L1181.5 595.9L1182.5 595.4L1183.5 596.7L1184.5 597.3L1185.5 594.8L1186.5 595.0L1187.5 596.9L1188.5 596.1L1189.5 595.1L1190.5 595.8L1191.5 596.3L1192.5 596.9L1193.5 596.2L1194.5 596.0L1195.5 594.5L1196.5 596.5L1197.5 596.5L1198.5 596.1L1199.5 596.0L1200.5 596.0L1201.5 596.8L1202.5 595.6L1203.5 594.6L1204.5 596.7L1205.5 595.5L1206.5 595.5L1207.5 596.3L1208.5 595.5L1209.5 595.5L1210.5 594.6L1211.5 596.9L1212.5 594.4L1213.5 597.0L1214.5 594.4L1215.5 595.1L1216.5 595.6L1217.5 596.9L1218.5 596.3L1219.5 595.5L1220.5 594.6L1221.5 596.8L1222.5 595.9L1223.5 596.3L1224.5 595.4L1225.5 595.1L1226.5 596.2L1227.5 595.9L1228.5 596.9L1229.5 596.1L1230.5 594.7L1231.5 596.7L1232.5 596.1L1233.5 595.8L1234.5 593.1L1235.5 595.0L1236.5 596.0L1237.5 595.1L1238.5 595.7L1239.5 596.0L1240.5 595.5L1241.5 594.6L1242.5 595.8L1243.5 595.6L1244.5 595.0L1245.5 593.6L1246.5 594.1L1247.5 595.6L1248.5 594.4L1249.5 592.9L1250.5 593.8L1251.5 593.5L1252.5 593.2L1253.5 592.3L1254.5 590.9L1255.5 588.8L1256.5 586.7L1257.5 584.9L1258.5 582.9L1259.5 579.8L1260.5 579.6L1261.5 579.8L1262.5 581.9L1263.5 584.9L1264.5 586.7L1265.5 588.8L1266.5 589.6L1267.5 591.1L1268.5 592.4L1269.5 591.3L1270.5 593.3L1271.5 593.6L1272.5 594.2L1273.5 592.3L1274.5 595.0L1275.5 593.4L1276.5 594.5L1277.5 594.5L1278.5 594.3L1279.5 594.4L1280.5 594.7L1281.5 595.5L1282.5 596.2L1283.5 595.1L1284.5 596.3L1285.5 595.9L1286.5 596.8L1287.5 594.4L1288.5 595.8L1289.5 595.6L1290.5 595.8L1291.5 596.0L1292.5 596.3L1293.5 595.6L1294.5 595.9L1295.5 595.2L1296.5 595.3L1297.5 594.7L1298.5 596.4L1299.5 596.2L1300.5 596.7L1301.5 595.2L1302.5 595.5L1303.5 598.0L1304.5 596.9L1305.5 594.5L1306.5 596.9L1307.5 596.6L1308.5 595.9L1309.5 595.9L1310.5 595.4L1311.5 595.5L1312.5 595.3L1313.5 594.9L1314.5 595.5L1315.5 595.0L1316.5 596.4L1317.5 597.0L1318.5 595.9L1319.5 595.6L1320.5 596.7L1321.5 596.0L1322.5 598.0L1323.5 593.5L1324.5 593.8L1325.5 595.1L1326.5 596.4L1327.5 596.7L1328.5 595.4L1329.5 595.9L1330.5 595.5L1331.5 596.2L1332.5 597.7L1333.5 593.6L1334.5 598.0L1335.5 596.8L1336.5 595.5L1337.5 596.4L1338.5 596.0L1339.5 596.4L1340.5 596.4L1341.5 596.8L1342.5 594.9L1343.5 596.6L1344.5 595.4L1345.5 596.0L1346.5 597.0L1347.5 595.8L1348.5 596.5L1349.5 596.6L1350.5 596.3L1351.5 595.0L1352.5 596.6L1353.5 596.1L1354.5 598.0L1355.5 594.9L1356.5 597.0L1357.5 595.6L1358.5 595.8L1359.5 597.8L1360.5 596.0L1361.5 596.8L1362.5 596.3L1363.5 595.4L1364.5 596.2L1365.5 595.9L1366.5 596.2L1367.5 598.3L1368.5 596.9L1369.5 594.6L1370.5 598.3L1371.5 596.7L1372.5 597.2L1373.5 597.6L1374.5 595.4L1375.5 596.5L1376.5 596.0L1377.5 595.7L1378.5 595.8L1379.5 596.1L1380.5 597.2L1381.5 596.8L1382.5 596.2L1383.5 597.1L1384.5 593.6L1385.5 595.8L1386.5 596.1L1387.5 596.0L1388.5 597.2L1389.5 595.8L1390.5 597.0L1391.5 595.4L1392.5 596.1L1393.5 595.5L1394.5 595.3L1395.5 596.2L1396.5 596.2L1397.5 594.7L1398.5 596.6L1399.5 595.5L1400.5 596.0L1401.5 593.2L1402.5 595.9L1403.5 594.0L1404.5 596.8L1405.5 595.3L1406.5 595.6L1407.5 596.0L1408.5 594.8L1409.5 596.1L1410.5 595.0L1411.5 595.9L1412.5 597.0L1413.5 597.2L1414.5 597.3L1415.5 595.7L1416.5 594.8L1417.5 596.2L1418.5 597.4L1419.5 595.1L1420.5 597.4L1421.5 596.2L1422.5 593.7L1423.5 596.3L1424.5 598.0L1425.5 596.8L1426.5 597.2L1427.5 596.3L1428.5 594.0L1429.5 593.3L1430.5 594.4L1431.5 595.2L1432.5 594.5L1433.5 594.9L1434.5 596.4L1435.5 597.2L1436.5 594.2L1437.5 594.9L1438.5 595.9L1439.5 595.8L1440.5 593.6L1441.5 599.0L1442.5 596.8L1443.5 596.7L1444.5 594.2L1445.5 596.4L1446.5 594.9L1447.5 596.5L1448.5 596.4L1449.5 596.1L1450.5 596.5L1451.5 595.3L1452.5 596.0L1453.5 593.6L1454.5 596.9L1455.5 596.2L1456.5 598.9L1457.5 596.4L1458.5 594.2L1459.5 598.2L1460.5 596.0L1461.5 595.6L1462.5 596.7L1463.5 597.9L1464.5 598.4L1465.5 595.9L1466.5 596.5L1467.5 596.1L1468.5 595.1L1469.5 595.1L1470.5 595.4L1471.5 595.4L1472.5 596.6L1473.5 593.7L1474.5 596.0L1475.5 595.9L1476.5 597.1L1477.5 595.3L1478.5 595.4L1479.5 595.8L1480.5 595.1L1481.5 595.2L1482.5 595.1L1483.5 595.2L1484.5 594.9L1485.5 595.2L1486.5 595.1L1487.5 595.4L1488.5 595.0L1489.5 597.3L1490.5 596.7L1491.5 596.3L1492.5 595.2L1493.5 596.9L1494.5 596.0L1495.5 595.9L1496.5 596.0L1497.5 595.5L1498.5 596.7L1499.5 594.8L1500.5 595.0L1501.5 595.7L1502.5 595.4L1503.5 596.2L1504.5 596.7L1505.5 597.2L1506.5 596.9L1507.5 595.8L1508.5 595.9L1509.5 595.7L1510.5 597.4L1511.5 596.0L1512.5 595.4L1513.5 595.0L1514.5 596.8L1515.5 595.1L1516.5 593.4L1517.5 596.7L1518.5 596.1L1519.5 596.5L1520.5 596.7L1521.5 596.3L1522.5 596.3L1523.5 595.9L1524.5 595.0L1525.5 593.6L1526.5 593.9L1527.5 596.4L1528.5 596.7L1529.5 596.2L1530.5 595.3L1531.5 596.8L1532.5 596.1L1533.5 596.2L1534.5 595.9L1535.5 595.2L1536.5 595.5L1537.5 596.8L1538.5 597.8L1539.5 597.8L1540.5 595.7L1541.5 596.1L1542.5 595.4L1543.5 595.6L1544.5 595.7L1545.5 596.1L1546.5 594.4L1547.5 597.4L1548.5 595.5L1549.5 594.9L1550.5 598.5L1551.5 595.4L1552.5 596.2L1553.5 595.3L1554.5 597.2L1555.5 593.2L1556.5 596.4L1557.5 594.7L1558.5 597.9L1559.5 598.4L1560.5 597.3L1561.5 595.7L1562.5 597.8L1563.5 598.7L1564.5 596.9L1565.5 596.1L1566.5 597.8L1567.5 594.8L1568.5 595.9L1569.5 596.1L1570.5 596.3L1571.5 597.2L1572.5 595.9L1573.5 595.0L1574.5 594.8L1575.5 596.1L1576.5 596.8L1577.5 597.0L1578.5 596.8L1579.5 594.9L1580.5 597.0L1581.5 595.9L1582.5 597.7L1583.5 596.1L1584.5 596.2L1585.5 595.9L1586.5 597.6L1587.5 596.4L1588.5 599.2L1589.5 597.4L1590.5 595.3L1591.5 596.4L1592.5 597.4L1593.5 597.1L1594.5 596.9L1595.5 596.4L1596.5 594.9L1597.5 595.1L1598.5 597.4L1599.5 596.0L1600.5 596.6L1601.5 597.1L1602.5 594.7L1603.5 594.7L1604.5 597.0L1605.5 595.6L1606.5 595.6L1607.5 597.0L1608.5 595.6L1609.5 595.7L1610.5 596.1L1611.5 594.2L1612.5 597.3L1613.5 596.2L1614.5 595.4L1615.5 596.8L1616.5 594.9L1617.5 595.0L1618.5 594.6L1619.5 595.4L1620.5 594.9L1621.5 595.7L1622.5 594.7L1623.5 595.4L1624.5 595.4L1625.5 595.1L1626.5 595.0L1627.5 594.7L1628.5 593.8L1629.5 592.7L1630.5 594.2L1631.5 592.8L1632.5 593.8L1633.5 593.3L1634.5 593.2L1635.5 592.8L1636.5 592.5L1637.5 591.1L1638.5 591.1L1639.0 591.2L1639.5 590.6L1640.0 590.3L1640.5 589.0L1641.0 588.4L1641.5 588.6L1642.0 587.3L1642.5 586.4L1643.0 585.6L1643.5 583.9L1644.0 582.9L1644.5 581.8L1645.0 580.5L1645.5 579.6L1646.0 578.0L1646.5 576.7L1647.0 575.0L1647.5 574.3L1648.0 573.6L1648.5 573.3L1649.0 573.1L1649.5 573.2L1650.0 573.9L1650.5 575.0L1651.0 575.6L1651.5 576.8L1652.0 578.5L1652.5 579.9L1653.0 580.8L1653.5 582.4L1654.0 582.6L1654.5 584.4L1655.0 585.2L1655.5 587.0L1656.0 587.3L1656.5 588.7L1657.0 588.7L1657.5 589.2L1658.0 589.6L1658.5 589.9L1659.0 590.7L1659.5 591.8L1660.5 591.0L1661.5 592.5L1662.5 593.6L1663.5 593.3L1664.5 593.9L1665.5 594.0L1666.5 594.4L1667.5 592.9L1668.5 595.8L1669.5 595.1L1670.5 594.5L1671.5 594.9L1672.5 595.1L1673.5 595.9L1674.5 594.6L1675.5 594.6L1676.5 594.7L1677.5 596.6L1678.5 595.3L1679.5 596.1L1680.5 595.0L1681.5 596.2L1682.5 595.8L1683.5 595.7L1684.5 597.4L1685.5 596.5L1686.5 595.6L1687.5 598.7L1688.5 595.7L1689.5 595.4L1690.5 594.6L1691.5 597.6L1692.5 596.2L1693.5 596.2L1694.5 597.1L1695.5 596.2L1696.5 596.8L1697.5 597.8L1698.5 596.8L1699.5 597.6L1700.5 597.3L1701.5 597.2L1702.5 598.5L1703.5 597.8L1704.5 597.5L1705.5 595.3L1706.5 596.2L1707.5 596.0L1708.5 596.6L1709.5 596.8L1710.5 596.8L1711.5 596.5L1712.5 596.9L1713.5 596.9L1714.5 597.5L1715.5 595.1L1716.5 597.8L1717.5 598.5L1718.5 598.0L1719.5 596.4L1720.5 596.0L1721.5 596.7L1722.5 598.1L1723.5 597.0L1724.5 594.8L1725.5 593.6L1726.5 597.1L1727.5 599.0L1728.5 595.3L1729.5 596.2L1730.5 596.7L1731.5 597.0L1732.5 597.4L1733.5 595.0L1734.5 596.4L1735.5 595.7L1736.5 597.1L1737.5 596.7L1738.5 597.2L1739.5 595.1L1740.5 595.1L1741.5 595.6L1742.5 595.8L1743.5 595.8L1744.5 595.3L1745.5 596.1L1746.5 595.1L1747.5 597.6L1748.5 596.2L1749.5 595.6L1750.5 596.9L1751.5 595.3L1752.5 596.9L1753.5 596.2L1754.5 597.8L1755.5 596.7L1756.5 595.6L1757.5 596.9L1758.5 596.0L1759.5 596.4L1760.5 593.3L1761.5 595.3L1762.5 595.6L1763.5 596.9L1764.5 594.7L1765.5 595.6L1766.5 595.0L1767.5 594.0L1768.5 594.4L1769.5 595.0L1770.5 594.3L1771.5 593.7L1772.0 593.6L1772.5 593.6L1773.0 593.6L1773.5 593.1L1774.0 591.9L1774.5 592.4L1775.0 592.3L1775.5 592.9L1776.0 591.1L1776.5 592.2L1777.0 590.7L1777.5 591.5L1778.0 589.5L1778.5 590.2L1779.0 589.0L1779.5 589.1L1780.0 589.2L1780.5 589.6L1781.0 588.9L1781.5 589.4L1782.0 589.1L1782.5 590.2L1783.0 589.5L1783.5 590.8L1784.0 591.0L1784.5 590.1L1785.0 591.0L1785.5 590.7L1786.0 591.9L1786.5 591.4L1787.0 592.5L1787.5 591.6L1788.0 591.9L1788.5 592.0L1789.0 592.7L1789.5 593.1L1790.0 593.2L1790.5 593.5L1791.0 594.3L1791.5 593.8L1792.0 593.6L1792.5 593.4L1793.5 593.9L1794.5 594.3L1795.5 595.5L1796.5 595.8L1797.5 594.8L1798.5 595.9L1799.5 595.0L1800.5 596.5L1801.5 594.6L1802.5 596.9L1803.5 596.0L1804.5 596.4L1805.5 596.2L1806.5 595.5L1807.5 596.5L1808.5 596.5L1809.5 597.1L1810.5 597.2L1811.5 597.7L1812.5 597.2L1813.5 595.7L1814.5 597.4L1815.5 595.6L1816.5 596.1L1817.5 597.1L1818.5 596.3L1819.5 596.7L1820.5 597.9L1821.5 596.3L1822.5 596.2L1823.5 595.7L1824.5 599.6L1825.5 596.5L1826.5 596.8L1827.5 596.8L1828.5 597.8L1829.5 596.2L1830.5 596.0L1831.5 596.5L1832.5 596.0L1833.5 595.3L1834.5 594.9L1835.5 596.8L1836.5 596.6L1837.5 598.4L1838.5 596.6L1839.5 596.7L1840.5 598.2L1841.5 595.5L1842.5 598.0L1843.5 596.6L1844.5 596.1L1845.5 597.4L1846.5 597.1L1847.5 596.0L1848.5 597.5L1849.5 598.5L1850.5 597.9L1851.5 597.2L1852.5 596.3L1853.5 596.8L1854.5 597.5L1855.5 597.0L1856.5 597.7L1857.5 598.1L1858.5 595.8L1859.5 597.4L1860.5 597.8L1861.5 597.3L1862.5 596.9L1863.5 598.8L1864.5 597.0L1865.5 597.2L1866.5 596.7L1867.5 596.9L1868.5 596.7L1869.5 597.0L1870.5 595.5L1871.5 595.6L1872.0 596.4L1878.0 596.4"/>
<path class="cv" stroke="#bab1cc" stroke-width="10.3" d="M169.5 789.2L175.5 789.2L176.5 787.9L177.5 788.6L178.5 789.2L179.5 791.2L180.5 789.0L181.5 788.2L182.5 788.5L183.5 788.9L184.5 789.1L185.5 789.4L186.5 792.0L187.5 789.4L188.5 787.8L189.5 791.2L190.5 789.4L191.5 789.5L192.5 789.7L193.5 790.7L194.5 790.4L195.5 790.5L196.5 789.6L197.5 789.9L198.5 788.5L199.5 788.4L200.5 788.7L201.5 788.8L202.5 787.5L203.5 788.0L204.5 790.9L205.5 791.0L206.5 791.7L207.5 791.2L208.5 790.9L209.5 791.9L210.5 791.0L211.5 790.0L212.5 790.2L213.5 790.7L214.5 790.7L215.5 790.0L216.5 789.7L217.5 790.1L218.5 789.1L219.5 792.2L220.5 790.4L221.5 787.7L222.5 790.8L223.5 789.0L224.5 789.8L225.5 790.2L226.5 791.2L227.5 790.3L228.5 790.7L229.5 790.3L230.5 792.8L231.5 790.4L232.5 789.5L233.5 788.7L234.5 790.0L235.5 789.5L236.5 790.1L237.5 790.3L238.5 788.6L239.5 790.1L240.5 789.2L241.5 789.1L242.5 789.0L243.5 789.8L244.5 789.3L245.5 789.3L246.5 789.6L247.5 788.4L248.5 791.0L249.5 790.3L250.5 789.2L251.5 789.9L252.5 788.5L253.5 789.6L254.5 787.9L255.5 789.5L256.5 789.9L257.5 789.4L258.5 790.6L259.5 789.1L260.5 790.3L261.5 790.6L262.5 790.7L263.5 790.0L264.5 791.9L265.5 790.9L266.5 790.8L267.5 789.4L268.5 790.5L269.5 789.8L270.5 792.7L271.5 791.0L272.5 789.9L273.5 791.4L274.5 791.7L275.5 789.8L276.5 790.4L277.5 792.7L278.5 790.1L279.5 790.1L280.5 793.0L281.5 789.9L282.5 788.7L283.5 788.8L284.5 790.0L285.5 790.6L286.5 788.7L287.5 787.5L288.5 790.3L289.5 789.5L290.5 788.9L291.5 788.7L292.5 791.0L293.5 789.7L294.5 788.5L295.5 788.9L296.5 789.5L297.5 788.4L298.5 789.3L299.5 791.5L300.5 791.1L301.5 791.3L302.5 791.3L303.5 790.4L304.5 790.7L305.5 788.5L306.5 791.2L307.5 791.1L308.5 790.5L309.5 790.4L310.5 788.9L311.5 789.5L312.5 788.2L313.5 789.3L314.5 789.5L315.5 789.2L316.5 791.1L317.5 789.1L318.5 790.3L319.5 790.2L320.5 789.8L321.5 790.6L322.5 790.3L323.5 789.4L324.5 791.2L325.5 789.7L326.5 790.4L327.5 788.5L328.5 788.8L329.5 789.8L330.5 792.2L331.5 788.5L332.5 788.7L333.5 789.1L334.5 789.4L335.5 789.9L336.5 791.1L337.5 789.8L338.5 790.6L339.5 789.8L340.5 789.3L341.5 789.1L342.5 790.2L343.5 789.8L344.5 791.2L345.5 789.9L346.5 789.7L347.5 788.7L348.5 789.1L349.5 790.4L350.5 790.4L351.5 791.6L352.5 789.4L353.5 790.4L354.5 789.8L355.5 787.7L356.5 788.6L357.5 790.2L358.5 789.5L359.5 789.2L360.5 791.3L361.5 789.9L362.5 790.6L363.5 791.2L364.5 789.7L365.5 791.0L366.5 789.1L367.5 788.8L368.5 791.4L369.5 791.5L370.5 790.9L371.5 789.5L372.5 789.9L373.5 789.4L374.5 789.3L375.5 790.4L376.5 789.8L377.5 791.6L378.5 788.7L379.5 789.8L380.5 789.0L381.5 788.8L382.5 792.1L383.5 791.8L384.5 790.6L385.5 790.6L386.5 790.4L387.5 790.0L388.5 786.6L389.5 787.4L390.5 790.3L391.5 787.2L392.5 791.4L393.5 790.6L394.5 790.0L395.5 790.2L396.5 790.4L397.5 789.0L398.5 791.4L399.5 789.3L400.5 788.4L401.5 791.3L402.5 789.8L403.5 790.0L404.5 790.7L405.5 791.9L406.5 789.7L407.5 789.9L408.5 788.4L409.5 789.9L410.5 791.6L411.5 788.9L412.5 788.7L413.5 788.2L414.5 788.7L415.5 788.6L416.5 790.1L417.5 790.5L418.5 788.0L419.5 790.5L420.5 791.3L421.5 790.8L422.5 789.1L423.5 790.8L424.5 789.6L425.5 788.8L426.5 788.4L427.5 788.5L428.5 790.0L429.5 791.1L430.5 788.7L431.5 788.4L432.5 791.6L433.5 789.4L434.5 792.9L435.5 790.9L436.5 789.1L437.5 791.3L438.5 791.5L439.5 788.8L440.5 790.4L441.5 792.1L442.5 789.1L443.5 791.0L444.5 790.9L445.5 792.3L446.5 791.7L447.5 790.0L448.5 788.7L449.5 789.7L450.5 790.2L451.5 790.2L452.5 789.9L453.5 789.6L454.5 791.9L455.5 790.4L456.5 789.9L457.5 790.9L458.5 791.0L459.5 790.8L460.5 792.0L461.5 789.9L462.5 791.1L463.5 791.6L464.5 790.2L465.5 790.6L466.5 791.1L467.5 790.8L468.5 790.2L469.5 789.0L470.5 789.0L471.5 789.9L472.5 789.6L473.5 789.4L474.5 789.3L475.5 788.1L476.5 790.2L477.5 788.7L478.5 790.9L479.5 791.8L480.5 789.8L481.5 789.5L482.5 788.5L483.5 788.0L484.5 788.2L485.5 788.7L486.5 787.6L487.5 786.3L488.5 787.1L489.5 785.7L490.5 785.8L491.5 784.4L492.5 782.9L493.5 781.7L494.5 780.3L495.5 777.4L496.5 774.5L497.5 769.3L498.5 762.9L499.5 752.2L500.5 736.5L501.5 711.2L502.5 671.9L503.5 622.1L504.5 594.8L505.5 621.9L506.5 671.6L507.5 710.9L508.5 736.6L509.5 752.1L510.5 762.3L511.5 768.8L512.5 774.3L513.5 778.0L514.5 780.2L515.5 782.3L516.5 783.5L517.5 785.6L518.5 786.3L519.5 786.0L520.5 787.0L521.5 788.5L522.5 788.2L523.5 786.8L524.5 788.6L525.5 788.8L526.5 787.3L527.5 789.9L528.5 790.8L529.5 789.5L530.5 789.5L531.5 790.1L532.5 790.0L533.5 790.4L534.5 791.0L535.5 789.2L536.5 790.5L537.5 792.5L538.5 790.7L539.5 791.0L540.5 791.3L541.5 790.3L542.5 789.8L543.5 793.2L544.5 791.2L545.5 790.0L546.5 792.0L547.5 790.9L548.5 790.5L549.5 790.9L550.5 790.1L551.5 790.6L552.5 792.6L553.5 792.0L554.5 791.8L555.5 793.2L556.5 792.5L557.5 791.3L558.5 790.3L559.5 791.2L560.5 793.0L561.5 790.9L562.5 793.9L563.5 791.4L564.5 790.4L565.5 791.2L566.5 793.2L567.5 791.1L568.5 792.2L569.5 792.4L570.5 791.0L571.5 792.8L572.5 793.4L573.5 792.6L574.5 790.3L575.5 792.5L576.5 792.9L577.5 793.1L578.5 794.1L579.5 792.7L580.5 792.3L581.5 790.1L582.5 791.3L583.5 793.7L584.5 791.2L585.5 792.1L586.5 790.7L587.5 792.1L588.5 791.1L589.5 792.9L590.5 792.3L591.5 792.7L592.5 790.5L593.5 791.8L594.5 792.9L595.5 788.8L596.5 791.4L597.5 791.9L598.5 792.8L599.5 792.7L600.5 792.7L601.5 792.4L602.5 792.8L603.5 791.7L604.5 791.6L605.5 790.4L606.5 791.4L607.5 791.5L608.5 793.2L609.5 790.5L610.5 791.9L611.5 791.4L612.5 791.9L613.5 792.9L614.5 791.8L615.5 790.9L616.5 791.9L617.5 792.9L618.5 792.3L619.5 792.6L620.5 790.6L621.5 793.0L622.5 791.6L623.5 790.9L624.5 792.6L625.5 790.6L626.5 792.3L627.5 793.6L628.5 791.6L629.5 791.4L630.5 793.3L631.5 792.8L632.5 793.1L633.5 790.1L634.5 791.3L635.5 793.8L636.5 791.1L637.5 791.2L638.5 791.6L639.5 791.6L640.5 791.2L641.5 788.7L642.5 791.7L643.5 790.0L644.5 792.1L645.5 792.2L646.5 790.0L647.5 791.0L648.5 792.2L649.5 792.2L650.5 791.4L651.5 790.1L652.5 790.9L653.5 789.4L654.5 791.2L655.5 790.2L656.5 790.8L657.5 787.8L658.5 788.8L659.5 788.4L660.5 787.9L661.5 786.6L662.5 787.0L663.5 785.3L664.5 785.5L665.5 782.9L666.5 781.0L667.5 778.4L668.5 775.5L669.5 770.8L670.5 764.3L671.5 755.4L672.5 744.3L673.5 730.1L674.5 716.8L675.5 710.9L676.5 716.8L677.5 730.0L678.5 744.4L679.5 756.0L680.5 764.9L681.5 771.0L682.5 775.7L683.5 778.7L684.5 781.2L685.5 782.8L686.5 783.9L687.5 785.8L688.5 786.6L689.5 788.4L690.5 788.4L691.5 790.0L692.5 790.5L693.5 789.7L694.5 789.1L695.5 790.2L696.5 791.4L697.5 790.8L698.5 791.9L699.5 790.8L700.5 791.2L701.5 791.9L702.5 792.0L703.5 791.8L704.5 791.8L705.5 792.1L706.5 791.6L707.5 792.6L708.5 791.0L709.5 794.4L710.5 792.0L711.5 790.8L712.5 790.1L713.5 790.8L714.5 791.9L715.5 791.0L716.5 792.7L717.5 791.5L718.5 791.0L719.5 791.7L720.5 791.5L721.5 791.9L722.5 790.7L723.5 791.9L724.5 790.1L725.5 792.2L726.5 791.8L727.5 791.7L728.5 791.0L729.5 792.0L730.5 792.3L731.5 790.4L732.5 793.3L733.5 792.3L734.5 792.8L735.5 793.9L736.5 791.0L737.5 791.3L738.5 791.4L739.5 792.3L740.5 791.2L741.5 791.3L742.5 794.0L743.5 792.0L744.5 792.8L745.5 793.6L746.5 793.8L747.5 790.8L748.5 792.7L749.5 793.3L750.5 793.7L751.5 791.7L752.5 791.9L753.5 792.4L754.5 792.3L755.5 792.0L756.5 791.6L757.5 792.3L758.5 792.2L759.5 792.7L760.5 791.8L761.5 791.4L762.5 792.1L763.5 792.2L764.5 793.6L765.5 792.1L766.5 790.2L767.5 794.8L768.5 794.0L769.5 793.3L770.5 793.2L771.5 792.7L772.5 794.8L773.5 791.6L774.5 793.7L775.5 793.7L776.5 795.3L777.5 792.5L778.5 794.3L779.5 793.2L780.5 791.7L781.5 791.3L782.5 793.7L783.5 791.2L784.5 792.3L785.5 794.3L786.5 791.5L787.5 793.3L788.5 794.6L789.5 794.0L790.5 793.4L791.5 791.7L792.5 794.5L793.5 793.0L794.5 792.6L795.5 791.3L796.5 790.1L797.5 792.9L798.5 792.0L799.5 790.6L800.5 793.4L801.5 792.6L802.5 791.8L803.5 792.0L804.5 793.0L805.5 792.9L806.5 791.4L807.5 793.5L808.5 792.3L809.5 791.4L810.5 792.3L811.5 792.1L812.5 793.5L813.5 793.1L814.5 790.0L815.5 790.9L816.5 792.9L817.5 792.3L818.5 791.0L819.5 791.5L820.5 793.9L821.5 789.4L822.5 793.2L823.5 792.9L824.5 791.2L825.5 791.8L826.5 792.5L827.5 792.3L828.5 792.8L829.5 793.7L830.5 791.8L831.5 792.7L832.5 793.0L833.5 792.0L834.5 792.5L835.5 794.2L836.5 790.4L837.5 792.9L838.5 792.1L839.5 791.5L840.5 792.7L841.5 793.5L842.5 793.9L843.5 792.0L844.5 793.3L845.5 794.4L846.5 792.8L847.5 793.3L848.5 792.7L849.5 792.8L850.5 791.1L851.5 793.5L852.5 792.7L853.5 794.4L854.5 793.2L855.5 791.6L856.5 793.9L857.5 794.3L858.5 794.0L859.5 792.5L860.5 792.5L861.5 794.5L862.5 792.1L863.5 793.9L864.5 793.0L865.5 792.1L866.5 792.4L867.5 792.2L868.5 793.2L869.5 792.0L870.5 792.5L871.5 792.3L872.5 793.0L873.5 793.8L874.5 790.9L875.5 793.0L876.5 791.8L877.5 792.4L878.5 792.5L879.5 794.5L880.5 794.4L881.5 792.5L882.5 792.4L883.5 794.4L884.5 793.2L885.5 794.8L886.5 792.0L887.5 794.0L888.5 792.1L889.5 789.5L890.5 793.5L891.5 791.6L892.5 793.6L893.5 792.5L894.5 794.2L895.5 791.4L896.5 791.3L897.5 794.5L898.5 793.9L899.5 792.8L900.5 790.8L901.5 793.5L902.5 795.4L903.5 792.1L904.5 791.8L905.5 791.3L906.5 792.8L907.5 792.4L908.5 790.9L909.5 791.9L910.5 793.8L911.5 791.3L912.5 793.0L913.5 793.8L914.5 793.5L915.5 790.8L916.5 793.2L917.5 791.0L918.5 790.1L919.5 792.6L920.5 790.6L921.5 792.3L922.5 794.0L923.5 793.2L924.5 792.4L925.5 793.8L926.5 792.9L927.5 793.6L928.5 794.1L929.5 791.9L930.5 794.7L931.5 792.9L932.5 793.1L933.5 793.3L934.5 792.8L935.5 792.7L936.5 793.8L937.5 792.4L938.5 793.4L939.5 793.8L940.5 792.3L941.5 792.7L942.5 793.4L943.5 792.8L944.5 793.4L945.5 792.6L946.5 792.3L947.5 792.7L948.5 793.1L949.5 794.0L950.5 790.8L951.5 792.2L952.5 792.3L953.5 791.9L954.5 792.2L955.5 794.0L956.5 793.7L957.5 791.9L958.5 791.1L959.5 793.0L960.5 793.1L961.5 791.2L962.5 792.7L963.5 793.1L964.5 793.4L965.5 792.1L966.5 793.1L967.5 792.1L968.5 793.3L969.5 792.5L970.5 793.1L971.5 792.5L972.5 792.3L973.5 792.9L974.5 793.5L975.5 792.3L976.5 793.1L977.5 795.4L978.5 792.0L979.5 791.3L980.5 791.7L981.5 792.0L982.5 792.2L983.5 789.8L984.5 790.0L985.5 793.0L986.5 790.6L987.5 792.8L988.5 793.4L989.5 788.7L990.5 793.0L991.5 792.3L992.5 792.1L993.5 793.0L994.5 792.6L995.5 793.2L996.5 794.8L997.5 793.1L998.5 791.2L999.5 793.9L1000.5 793.7L1001.5 794.0L1002.5 792.9L1003.5 793.5L1004.5 794.7L1005.5 792.4L1006.5 791.7L1007.5 794.1L1008.5 792.3L1009.5 793.8L1010.5 791.9L1011.5 792.0L1012.5 792.7L1013.5 792.7L1014.5 791.5L1015.5 794.2L1016.5 792.0L1017.5 793.2L1018.5 791.5L1019.5 791.9L1020.5 791.8L1021.5 792.9L1022.5 792.8L1023.5 792.7L1024.5 792.5L1025.5 793.4L1026.5 793.4L1027.5 791.9L1028.5 792.5L1029.5 792.8L1030.5 792.9L1031.5 792.8L1032.5 791.9L1033.5 792.1L1034.5 792.6L1035.5 792.8L1036.5 791.4L1037.5 791.4L1038.5 791.9L1039.5 792.6L1040.5 791.8L1041.5 792.4L1042.5 791.8L1043.5 793.2L1044.5 790.6L1045.5 792.7L1046.5 792.1L1047.5 792.9L1048.5 793.2L1049.5 789.5L1050.5 794.0L1051.5 793.4L1052.5 794.3L1053.5 793.5L1054.5 793.7L1055.5 793.3L1056.5 794.4L1057.5 791.0L1058.5 792.4L1059.5 791.4L1060.5 793.3L1061.5 792.6L1062.5 794.2L1063.5 792.6L1064.5 792.2L1065.5 792.4L1066.5 791.8L1067.5 790.4L1068.5 792.4L1069.5 792.1L1070.5 792.1L1071.5 791.2L1072.5 792.4L1073.5 791.2L1074.5 792.6L1075.5 792.2L1076.5 792.3L1077.5 791.1L1078.5 793.2L1079.5 793.9L1080.5 792.9L1081.5 792.5L1082.5 793.9L1083.5 793.9L1084.5 792.6L1085.5 795.9L1086.5 794.3L1087.5 794.4L1088.5 793.2L1089.5 793.0L1090.5 791.4L1091.5 792.1L1092.5 792.7L1093.5 793.3L1094.5 792.2L1095.5 791.9L1096.5 794.2L1097.5 793.2L1098.5 794.1L1099.5 793.2L1100.5 792.5L1101.5 792.9L1102.5 790.3L1103.5 794.1L1104.5 793.4L1105.5 793.9L1106.5 792.3L1107.5 794.7L1108.5 794.0L1109.5 790.7L1110.5 790.7L1111.5 793.0L1112.5 791.0L1113.5 792.5L1114.5 792.5L1115.5 792.5L1116.5 794.4L1117.5 793.3L1118.5 793.3L1119.5 792.9L1120.5 795.8L1121.5 794.1L1122.5 791.9L1123.5 793.2L1124.5 791.6L1125.5 792.2L1126.5 792.2L1127.5 791.1L1128.5 790.6L1129.5 791.3L1130.5 793.0L1131.5 789.5L1132.5 793.3L1133.5 790.5L1134.5 791.7L1135.5 792.0L1136.5 793.2L1137.5 792.2L1138.5 791.0L1139.5 791.6L1140.5 792.3L1141.5 793.4L1142.5 792.5L1143.5 792.1L1144.5 792.0L1145.5 794.1L1146.5 791.7L1147.5 792.1L1148.5 793.1L1149.5 794.2L1150.5 790.5L1151.5 793.4L1152.5 793.7L1153.5 792.7L1154.5 790.5L1155.5 791.7L1156.5 792.4L1157.5 792.6L1158.5 791.0L1159.5 792.3L1160.5 793.3L1161.5 792.1L1162.5 792.2L1163.5 791.8L1164.5 790.8L1165.5 791.9L1166.5 792.1L1167.5 793.2L1168.5 791.6L1169.5 791.2L1170.5 791.7L1171.5 791.4L1172.5 793.0L1173.5 791.6L1174.5 790.6L1175.5 793.1L1176.5 792.4L1177.5 792.5L1178.5 792.8L1179.5 793.9L1180.5 791.6L1181.5 793.4L1182.5 792.9L1183.5 793.0L1184.5 792.6L1185.5 792.2L1186.5 792.9L1187.5 792.5L1188.5 793.0L1189.5 793.8L1190.5 791.1L1191.5 794.2L1192.5 793.2L1193.5 790.9L1194.5 792.2L1195.5 792.3L1196.5 793.5L1197.5 791.4L1198.5 794.4L1199.5 791.5L1200.5 792.3L1201.5 792.3L1202.5 791.5L1203.5 791.6L1204.5 792.2L1205.5 792.7L1206.5 792.0L1207.5 791.7L1208.5 789.8L1209.5 792.3L1210.5 794.5L1211.5 794.1L1212.5 793.6L1213.5 792.0L1214.5 793.1L1215.5 792.2L1216.5 792.2L1217.5 792.7L1218.5 793.5L1219.5 791.9L1220.5 791.7L1221.5 792.4L1222.5 790.8L1223.5 793.2L1224.5 793.1L1225.5 793.4L1226.5 793.1L1227.5 791.6L1228.5 792.1L1229.5 791.3L1230.5 792.6L1231.5 794.6L1232.5 791.1L1233.5 792.9L1234.5 793.6L1235.5 790.9L1236.5 794.3L1237.5 791.4L1238.5 792.0L1239.5 792.4L1240.5 792.7L1241.5 792.7L1242.5 791.6L1243.5 791.1L1244.5 789.6L1245.5 791.3L1246.5 792.8L1247.5 790.8L1248.5 792.2L1249.5 792.1L1250.5 791.5L1251.5 790.6L1252.5 790.3L1253.0 790.5L1253.5 788.8L1254.0 791.1L1254.5 789.1L1255.0 788.9L1255.5 788.6L1256.0 788.6L1256.5 788.7L1257.0 788.7L1257.5 787.5L1258.0 787.6L1258.5 785.6L1259.0 785.2L1259.5 784.2L1260.0 782.7L1260.5 781.6L1261.0 779.5L1261.5 779.6L1262.0 778.6L1262.5 777.7L1263.0 777.4L1263.5 777.9L1264.0 777.9L1264.5 779.5L1265.0 780.7L1265.5 782.6L1266.0 782.5L1266.5 784.0L1267.0 784.7L1267.5 784.4L1268.0 785.4L1268.5 786.5L1269.0 788.2L1269.5 789.0L1270.0 788.2L1270.5 789.1L1271.0 789.5L1271.5 787.8L1272.0 790.9L1272.5 791.2L1273.0 788.5L1273.5 789.7L1274.5 790.8L1275.5 791.0L1276.5 792.2L1277.5 792.5L1278.5 790.9L1279.5 792.2L1280.5 791.1L1281.5 791.6L1282.5 792.2L1283.5 792.4L1284.5 791.6L1285.5 794.3L1286.5 792.6L1287.5 792.6L1288.5 793.3L1289.5 791.9L1290.5 792.9L1291.5 790.1L1292.5 790.9L1293.5 792.2L1294.5 792.0L1295.5 792.1L1296.5 791.6L1297.5 793.1L1298.5 793.6L1299.5 791.7L1300.5 793.3L1301.5 792.5L1302.5 791.0L1303.5 790.8L1304.5 792.5L1305.5 793.8L1306.5 791.5L1307.5 790.4L1308.5 793.7L1309.5 793.9L1310.5 792.4L1311.5 793.6L1312.5 794.7L1313.5 791.5L1314.5 791.9L1315.5 792.1L1316.5 793.7L1317.5 791.6L1318.5 792.1L1319.5 793.7L1320.5 793.4L1321.5 793.4L1322.5 791.5L1323.5 792.8L1324.5 791.6L1325.5 793.1L1326.5 792.7L1327.5 792.9L1328.5 792.0L1329.5 792.5L1330.5 792.9L1331.5 792.1L1332.5 792.7L1333.5 791.4L1334.5 791.3L1335.5 790.5L1336.5 792.3L1337.5 793.5L1338.5 792.9L1339.5 790.2L1340.5 792.8L1341.5 792.4L1342.5 792.2L1343.5 792.5L1344.5 793.2L1345.5 794.1L1346.5 793.9L1347.5 794.7L1348.5 793.3L1349.5 792.1L1350.5 794.3L1351.5 791.5L1352.5 793.7L1353.5 791.8L1354.5 792.3L1355.5 794.3L1356.5 792.2L1357.5 793.9L1358.5 793.4L1359.5 792.4L1360.5 793.4L1361.5 793.4L1362.5 792.7L1363.5 791.8L1364.5 793.4L1365.5 792.2L1366.5 792.6L1367.5 793.2L1368.5 792.8L1369.5 793.2L1370.5 793.2L1371.5 793.4L1372.5 793.3L1373.5 794.6L1374.5 792.5L1375.5 792.5L1376.5 791.7L1377.5 790.5L1378.5 793.7L1379.5 793.3L1380.5 794.4L1381.5 791.3L1382.5 792.0L1383.5 792.3L1384.5 794.9L1385.5 793.6L1386.5 792.4L1387.5 792.5L1388.5 793.1L1389.5 791.5L1390.5 792.8L1391.5 791.2L1392.5 792.4L1393.5 793.0L1394.5 792.7L1395.5 791.5L1396.5 792.1L1397.5 793.0L1398.5 791.5L1399.5 790.8L1400.5 792.1L1401.5 791.9L1402.5 792.3L1403.5 792.6L1404.5 792.2L1405.5 792.0L1406.5 793.6L1407.5 793.2L1408.5 793.6L1409.5 792.5L1410.5 792.0L1411.5 792.8L1412.5 790.9L1413.5 791.3L1414.5 793.5L1415.5 792.0L1416.5 792.0L1417.5 791.3L1418.5 793.1L1419.5 791.4L1420.5 794.0L1421.5 792.9L1422.5 790.6L1423.5 791.9L1424.5 791.3L1425.5 793.0L1426.5 793.2L1427.5 792.2L1428.5 791.8L1429.5 792.9L1430.5 791.8L1431.5 793.9L1432.5 791.8L1433.5 793.0L1434.5 790.4L1435.5 792.9L1436.5 791.7L1437.5 792.8L1438.5 793.6L1439.5 792.2L1440.5 789.8L1441.5 790.2L1442.5 792.6L1443.5 791.5L1444.5 791.4L1445.5 793.7L1446.5 792.3L1447.5 793.6L1448.5 793.7L1449.5 792.2L1450.5 793.0L1451.5 791.4L1452.5 793.0L1453.5 792.5L1454.5 794.1L1455.5 793.2L1456.5 792.2L1457.5 791.7L1458.5 792.2L1459.5 792.2L1460.5 793.2L1461.5 793.6L1462.5 791.3L1463.5 791.4L1464.5 793.1L1465.5 791.5L1466.5 792.7L1467.5 791.0L1468.5 792.8L1469.5 792.6L1470.5 792.7L1471.5 792.3L1472.5 793.6L1473.5 794.0L1474.5 793.8L1475.5 792.6L1476.5 792.5L1477.5 791.9L1478.5 791.9L1479.5 792.5L1480.5 792.4L1481.5 792.3L1482.5 792.7L1483.5 793.3L1484.5 791.9L1485.5 792.4L1486.5 793.3L1487.5 792.8L1488.5 791.7L1489.5 791.4L1490.5 793.3L1491.5 791.4L1492.5 793.1L1493.5 791.4L1494.5 794.3L1495.5 791.5L1496.5 794.7L1497.5 793.4L1498.5 794.0L1499.5 793.8L1500.5 793.2L1501.5 792.1L1502.5 795.1L1503.5 792.1L1504.5 792.7L1505.5 790.9L1506.5 792.4L1507.5 793.1L1508.5 791.7L1509.5 792.7L1510.5 792.2L1511.5 792.0L1512.5 793.0L1513.5 793.3L1514.5 791.6L1515.5 790.6L1516.5 793.0L1517.5 791.3L1518.5 792.0L1519.5 791.8L1520.5 793.6L1521.5 794.9L1522.5 792.0L1523.5 795.0L1524.5 792.8L1525.5 792.3L1526.5 793.9L1527.5 794.5L1528.5 792.2L1529.5 792.3L1530.5 794.6L1531.5 793.5L1532.5 789.6L1533.5 792.4L1534.5 791.7L1535.5 792.0L1536.5 793.0L1537.5 792.5L1538.5 792.3L1539.5 794.9L1540.5 791.2L1541.5 793.0L1542.5 793.4L1543.5 791.2L1544.5 791.4L1545.5 791.3L1546.5 793.5L1547.5 791.8L1548.5 793.5L1549.5 791.7L1550.5 791.7L1551.5 793.6L1552.5 794.1L1553.5 791.8L1554.5 792.2L1555.5 793.6L1556.5 792.2L1557.5 792.0L1558.5 792.1L1559.5 793.5L1560.5 790.4L1561.5 794.8L1562.5 794.7L1563.5 794.2L1564.5 792.4L1565.5 791.9L1566.5 793.1L1567.5 791.3L1568.5 795.0L1569.5 792.1L1570.5 794.1L1571.5 793.7L1572.5 792.4L1573.5 792.8L1574.5 792.1L1575.5 793.1L1576.5 793.6L1577.5 793.0L1578.5 792.7L1579.5 792.8L1580.5 793.9L1581.5 793.5L1582.5 793.0L1583.5 791.9L1584.5 792.0L1585.5 792.9L1586.5 791.7L1587.5 791.4L1588.5 793.7L1589.5 792.6L1590.5 792.8L1591.5 792.0L1592.5 793.0L1593.5 793.6L1594.5 793.2L1595.5 791.5L1596.5 792.6L1597.5 793.8L1598.5 793.3L1599.5 793.9L1600.5 792.5L1601.5 792.8L1602.5 793.7L1603.5 792.6L1604.5 793.6L1605.5 790.9L1606.5 791.6L1607.5 793.4L1608.5 793.2L1609.5 793.3L1610.5 793.3L1611.5 793.3L1612.5 791.5L1613.5 794.2L1614.5 793.3L1615.5 791.3L1616.5 791.2L1617.5 793.0L1618.5 792.0L1619.5 793.1L1620.5 792.3L1621.5 790.9L1622.5 791.5L1623.5 792.0L1624.5 792.3L1625.5 793.1L1626.5 791.8L1627.5 792.6L1628.5 791.9L1629.5 791.8L1630.5 789.6L1631.5 790.9L1632.5 790.0L1633.5 791.6L1634.5 791.5L1635.5 790.6L1636.5 791.6L1637.5 789.8L1638.5 789.8L1639.5 788.6L1640.5 788.4L1641.5 786.6L1642.5 785.9L1643.5 785.1L1644.5 783.0L1645.5 780.9L1646.5 779.0L1647.5 776.8L1648.5 774.9L1649.5 772.4L1650.5 772.2L1651.5 772.8L1652.5 774.3L1653.5 776.5L1654.5 779.1L1655.5 781.5L1656.5 782.2L1657.5 784.0L1658.5 786.1L1659.5 786.3L1660.5 788.0L1661.5 788.1L1662.5 789.3L1663.5 789.2L1664.5 789.6L1665.5 792.6L1666.5 790.6L1667.5 792.4L1668.5 791.5L1669.5 792.4L1670.5 791.3L1671.5 792.3L1672.5 791.5L1673.5 789.5L1674.5 789.8L1675.5 792.2L1676.5 793.0L1677.5 791.8L1678.5 791.3L1679.5 791.9L1680.5 794.2L1681.5 790.9L1682.5 793.3L1683.5 793.9L1684.5 791.5L1685.5 791.7L1686.5 792.4L1687.5 792.3L1688.5 793.9L1689.5 792.9L1690.5 792.3L1691.5 793.3L1692.5 794.3L1693.5 792.7L1694.5 792.3L1695.5 794.0L1696.5 794.8L1697.5 794.6L1698.5 793.9L1699.5 793.1L1700.5 794.1L1701.5 793.8L1702.5 793.9L1703.5 793.1L1704.5 794.3L1705.5 794.2L1706.5 792.1L1707.5 794.2L1708.5 792.3L1709.5 793.5L1710.5 793.2L1711.5 793.7L1712.5 792.8L1713.5 792.7L1714.5 792.4L1715.5 792.6L1716.5 791.6L1717.5 793.8L1718.5 792.4L1719.5 793.3L1720.5 792.8L1721.5 793.4L1722.5 793.7L1723.5 791.8L1724.5 792.8L1725.5 793.2L1726.5 792.1L1727.5 792.3L1728.5 793.5L1729.5 794.4L1730.5 793.4L1731.5 793.8L1732.5 793.4L1733.5 795.2L1734.5 793.2L1735.5 794.2L1736.5 796.8L1737.5 793.7L1738.5 793.3L1739.5 791.7L1740.5 791.4L1741.5 795.3L1742.5 793.1L1743.5 792.0L1744.5 792.5L1745.5 792.0L1746.5 793.0L1747.5 792.5L1748.5 793.9L1749.5 794.8L1750.5 793.7L1751.5 793.4L1752.5 793.5L1753.5 794.7L1754.5 791.9L1755.5 792.2L1756.5 792.6L1757.5 792.0L1758.5 793.5L1759.5 792.6L1760.5 791.9L1761.5 793.2L1762.5 792.4L1763.5 793.0L1764.5 792.7L1765.5 792.1L1766.5 791.5L1767.5 792.7L1768.5 791.3L1769.5 792.8L1770.5 792.0L1771.5 791.6L1772.5 790.5L1773.5 791.5L1774.0 790.1L1774.5 790.3L1775.0 789.3L1775.5 790.2L1776.0 789.3L1776.5 789.2L1777.0 788.7L1777.5 788.0L1778.0 787.3L1778.5 787.4L1779.0 786.6L1779.5 786.5L1780.0 787.0L1780.5 786.6L1781.0 786.1L1781.5 786.1L1782.0 786.0L1782.5 785.5L1783.0 785.4L1783.5 785.4L1784.0 785.5L1784.5 786.5L1785.0 785.0L1785.5 785.7L1786.0 785.7L1786.5 787.2L1787.0 786.2L1787.5 787.1L1788.0 787.1L1788.5 787.4L1789.0 787.8L1789.5 788.0L1790.0 788.1L1790.5 789.3L1791.0 788.0L1791.5 787.8L1792.0 788.8L1792.5 790.0L1793.0 789.4L1793.5 790.2L1794.0 790.9L1794.5 790.7L1795.5 791.1L1796.5 791.9L1797.5 791.6L1798.5 792.8L1799.5 792.3L1800.5 793.6L1801.5 793.6L1802.5 792.7L1803.5 793.8L1804.5 793.7L1805.5 793.7L1806.5 793.3L1807.5 791.8L1808.5 792.6L1809.5 793.9L1810.5 794.2L1811.5 791.9L1812.5 792.6L1813.5 791.7L1814.5 792.5L1815.5 794.4L1816.5 793.3L1817.5 794.2L1818.5 795.2L1819.5 791.9L1820.5 793.6L1821.5 793.8L1822.5 793.9L1823.5 794.6L1824.5 794.9L1825.5 794.4L1826.5 792.9L1827.5 795.2L1828.5 796.4L1829.5 793.1L1830.5 794.1L1831.5 794.6L1832.5 793.8L1833.5 794.3L1834.5 794.4L1835.5 795.3L1836.5 793.8L1837.5 794.1L1838.5 796.1L1839.5 795.3L1840.5 793.7L1841.5 793.0L1842.5 794.3L1843.5 795.1L1844.5 794.4L1845.5 793.2L1846.5 793.3L1847.5 794.0L1848.5 794.7L1849.5 795.0L1850.5 795.8L1851.5 793.7L1852.5 793.4L1853.5 792.3L1854.5 793.0L1855.5 793.9L1856.5 793.8L1857.5 793.9L1858.5 794.2L1859.5 793.5L1860.5 792.5L1861.5 794.1L1862.5 794.3L1863.5 793.1L1864.5 797.6L1865.5 791.3L1866.5 792.4L1867.5 793.6L1868.5 793.6L1869.5 793.2L1870.5 794.4L1871.5 795.3L1872.0 794.1L1878.0 794.1"/>
<path class="cv" stroke="#f4c9a5" stroke-width="11.3" d="M169.5 1023.9L175.5 1023.9L176.5 1023.7L177.5 1023.3L178.5 1022.5L179.5 1025.5L180.5 1025.1L181.5 1022.3L182.5 1020.3L183.5 1020.6L184.5 1023.5L185.5 1022.8L186.5 1022.3L187.5 1022.1L188.5 1025.0L189.5 1023.6L190.5 1022.9L191.5 1027.5L192.5 1026.2L193.5 1023.7L194.5 1023.7L195.5 1025.5L196.5 1024.5L197.5 1025.2L198.5 1028.6L199.5 1029.1L200.5 1028.3L201.5 1026.4L202.5 1026.6L203.5 1024.6L204.5 1024.1L205.5 1026.2L206.5 1026.0L207.5 1026.7L208.5 1025.7L209.5 1025.1L210.5 1025.3L211.5 1024.1L212.5 1025.9L213.5 1022.6L214.5 1027.6L215.5 1025.7L216.5 1022.7L217.5 1025.8L218.5 1028.3L219.5 1024.4L220.5 1026.8L221.5 1025.5L222.5 1027.7L223.5 1026.1L224.5 1024.7L225.5 1026.1L226.5 1026.3L227.5 1026.1L228.5 1024.9L229.5 1023.2L230.5 1024.8L231.5 1023.1L232.5 1023.7L233.5 1025.5L234.5 1027.2L235.5 1026.8L236.5 1022.5L237.5 1027.6L238.5 1023.5L239.5 1026.9L240.5 1026.1L241.5 1027.7L242.5 1026.3L243.5 1028.2L244.5 1025.8L245.5 1026.9L246.5 1028.1L247.5 1025.9L248.5 1026.0L249.5 1027.3L250.5 1024.7L251.5 1027.4L252.5 1025.9L253.5 1029.2L254.5 1028.7L255.5 1027.0L256.5 1028.8L257.5 1025.8L258.5 1024.8L259.5 1025.6L260.5 1025.2L261.5 1024.1L262.5 1025.2L263.5 1022.5L264.5 1022.7L265.5 1023.8L266.5 1021.2L267.5 1024.9L268.5 1024.0L269.5 1022.1L270.5 1024.9L271.5 1023.5L272.5 1025.6L273.5 1023.0L274.5 1023.7L275.5 1025.4L276.5 1023.2L277.5 1026.1L278.5 1025.3L279.5 1020.2L280.5 1024.6L281.5 1025.0L282.5 1023.0L283.5 1023.7L284.5 1024.1L285.5 1021.2L286.5 1024.9L287.5 1024.1L288.5 1022.9L289.5 1023.4L290.5 1023.9L291.5 1025.6L292.5 1024.3L293.5 1022.5L294.5 1022.7L295.5 1022.9L296.5 1025.3L297.5 1024.2L298.5 1023.3L299.5 1026.5L300.5 1025.4L301.5 1023.4L302.5 1025.4L303.5 1025.2L304.5 1024.7L305.5 1024.9L306.5 1023.7L307.5 1023.5L308.5 1022.3L309.5 1025.0L310.5 1024.3L311.5 1022.5L312.5 1024.9L313.5 1025.8L314.5 1025.2L315.5 1024.8L316.5 1026.1L317.5 1024.4L318.5 1022.6L319.5 1027.9L320.5 1023.2L321.5 1025.9L322.5 1028.1L323.5 1025.4L324.5 1027.8L325.5 1025.9L326.5 1026.2L327.5 1024.2L328.5 1027.7L329.5 1025.7L330.5 1027.7L331.5 1024.9L332.5 1026.5L333.5 1026.4L334.5 1027.8L335.5 1026.6L336.5 1023.8L337.5 1027.0L338.5 1025.8L339.5 1025.0L340.5 1026.0L341.5 1028.5L342.5 1025.2L343.5 1027.2L344.5 1026.1L345.5 1028.0L346.5 1027.1L347.5 1026.0L348.5 1027.2L349.5 1027.3L350.5 1026.6L351.5 1026.9L352.5 1028.4L353.5 1026.8L354.5 1027.0L355.5 1028.1L356.5 1026.7L357.5 1026.7L358.5 1026.2L359.5 1025.9L360.5 1026.3L361.5 1027.3L362.5 1024.1L363.5 1026.3L364.5 1027.3L365.5 1028.8L366.5 1029.6L367.5 1024.7L368.5 1026.2L369.5 1026.5L370.5 1024.4L371.5 1025.6L372.5 1026.9L373.5 1026.5L374.5 1024.0L375.5 1027.7L376.5 1025.6L377.5 1027.1L378.5 1025.1L379.5 1027.1L380.5 1028.9L381.5 1028.9L382.5 1028.2L383.5 1027.9L384.5 1026.4L385.5 1025.9L386.5 1030.3L387.5 1026.1L388.5 1027.3L389.5 1030.0L390.5 1029.1L391.5 1031.3L392.5 1028.0L393.5 1029.4L394.5 1032.1L395.5 1027.0L396.5 1027.6L397.5 1026.7L398.5 1027.0L399.5 1026.4L400.5 1028.5L401.5 1029.4L402.5 1029.2L403.5 1029.7L404.5 1026.5L405.5 1028.9L406.5 1027.6L407.5 1031.1L408.5 1029.9L409.5 1026.3L410.5 1029.2L411.5 1027.4L412.5 1029.4L413.5 1031.4L414.5 1032.4L415.5 1030.0L416.5 1028.5L417.5 1029.0L418.5 1027.6L419.5 1025.0L420.5 1028.7L421.5 1028.0L422.5 1028.0L423.5 1029.2L424.5 1029.3L425.5 1029.4L426.5 1030.4L427.5 1029.5L428.5 1031.0L429.5 1029.5L430.5 1029.0L431.5 1028.3L432.5 1028.4L433.5 1025.2L434.5 1026.9L435.5 1028.8L436.5 1030.5L437.5 1028.1L438.5 1028.7L439.5 1029.3L440.5 1029.6L441.5 1027.1L442.5 1029.4L443.5 1033.7L444.5 1031.9L445.5 1029.1L446.5 1030.5L447.5 1031.6L448.5 1030.0L449.5 1031.0L450.5 1029.9L451.5 1029.5L452.5 1030.7L453.5 1028.9L454.5 1030.5L455.5 1030.8L456.5 1028.7L457.5 1030.1L458.5 1029.8L459.5 1029.6L460.5 1027.8L461.5 1026.9L462.5 1028.9L463.5 1029.6L464.5 1030.9L465.5 1028.2L466.5 1030.9L467.5 1029.7L468.5 1029.4L469.5 1028.9L470.5 1034.0L471.5 1030.8L472.5 1029.4L473.5 1029.4L474.5 1025.7L475.5 1027.0L476.5 1027.4L477.5 1027.3L478.5 1025.5L479.5 1026.4L480.5 1029.1L481.5 1027.8L482.5 1027.9L483.5 1029.0L484.5 1030.7L485.5 1027.9L486.5 1026.0L487.5 1024.5L488.5 1025.4L489.5 1024.4L490.5 1022.5L491.5 1021.9L491.8 1021.2L492.5 1020.3L492.8 1018.8L493.5 1018.4L493.8 1017.0L494.5 1016.0L494.8 1014.0L495.5 1010.6L495.8 1009.6L496.5 1004.0L496.8 1001.7L497.5 995.0L497.8 990.8L498.5 978.5L498.8 971.0L499.5 948.3L499.8 934.9L500.5 895.8L500.8 876.6L501.5 842.4L501.8 837.2L502.5 857.7L502.8 875.0L503.5 917.6L503.8 933.1L504.5 961.1L504.8 970.2L505.5 986.4L505.8 991.4L506.5 1000.0L506.8 1003.4L507.5 1009.1L507.8 1010.2L508.5 1014.1L508.8 1015.1L509.5 1017.6L509.8 1018.6L510.5 1019.6L510.8 1021.6L511.5 1022.6L511.8 1022.9L512.5 1024.2L513.5 1025.3L514.5 1025.4L515.5 1027.2L516.5 1028.6L517.5 1025.2L518.5 1027.0L519.5 1026.6L520.5 1027.2L521.5 1026.4L522.5 1026.2L523.5 1026.6L524.5 1025.3L525.5 1026.4L526.5 1024.3L527.5 1028.2L528.5 1026.6L529.5 1026.3L530.5 1029.8L531.5 1029.6L532.5 1030.1L533.5 1030.9L534.5 1030.3L535.5 1028.9L536.5 1031.2L537.5 1030.5L538.5 1031.1L539.5 1029.6L540.5 1029.7L541.5 1029.1L542.5 1032.2L543.5 1030.1L544.5 1031.7L545.5 1030.0L546.5 1029.5L547.5 1030.9L548.5 1029.6L549.5 1031.1L550.5 1030.9L551.5 1029.6L552.5 1029.7L553.5 1030.7L554.5 1030.4L555.5 1029.2L556.5 1031.0L557.5 1030.3L558.5 1030.1L559.5 1030.9L560.5 1030.6L561.5 1032.2L562.5 1031.1L563.5 1030.6L564.5 1034.3L565.5 1032.9L566.5 1026.8L567.5 1027.4L568.5 1028.0L569.5 1030.7L570.5 1027.8L571.5 1029.4L572.5 1028.6L573.5 1030.2L574.5 1028.0L575.5 1030.5L576.5 1029.9L577.5 1031.9L578.5 1031.2L579.5 1030.9L580.5 1028.6L581.5 1029.1L582.5 1030.7L583.5 1031.9L584.5 1028.4L585.5 1029.0L586.5 1027.2L587.5 1031.3L588.5 1028.1L589.5 1030.4L590.5 1030.2L591.5 1029.0L592.5 1028.4L593.5 1029.8L594.5 1031.5L595.5 1027.9L596.5 1028.7L597.5 1025.2L598.5 1029.2L599.5 1028.1L600.5 1029.3L601.5 1030.2L602.5 1029.5L603.5 1032.0L604.5 1032.4L605.5 1032.7L606.5 1030.3L607.5 1029.8L608.5 1031.1L609.5 1031.1L610.5 1029.2L611.5 1030.1L612.5 1030.3L613.5 1031.0L614.5 1029.2L615.5 1027.1L616.5 1031.4L617.5 1031.8L618.5 1030.9L619.5 1031.2L620.5 1029.4L621.5 1026.7L622.5 1029.9L623.5 1028.2L624.5 1027.0L625.5 1030.5L626.5 1028.8L627.5 1025.0L628.5 1029.9L629.5 1029.2L630.5 1028.9L631.5 1028.8L632.5 1031.0L633.5 1031.1L634.5 1030.5L635.5 1031.4L636.5 1028.9L637.5 1032.2L638.5 1033.9L639.5 1030.2L640.5 1030.8L641.5 1030.4L642.5 1032.1L643.5 1028.5L644.5 1030.8L645.5 1028.6L646.5 1029.2L647.5 1029.6L648.5 1029.5L649.5 1028.5L650.5 1029.0L651.5 1029.7L652.5 1029.5L653.5 1031.3L654.5 1029.1L655.5 1026.9L656.5 1028.7L657.5 1028.1L658.5 1027.6L659.5 1025.4L660.5 1025.3L661.5 1025.1L662.5 1024.5L663.5 1023.2L664.0 1023.5L664.5 1021.9L665.0 1021.9L665.5 1021.1L666.0 1019.4L666.5 1018.3L667.0 1016.4L667.5 1015.7L668.0 1014.6L668.5 1011.6L669.0 1010.1L669.5 1006.7L670.0 1002.9L670.5 998.9L671.0 994.6L671.5 988.5L672.0 982.2L672.5 976.1L673.0 970.3L673.5 965.9L674.0 964.4L674.5 965.6L675.0 969.6L675.5 975.3L676.0 981.7L676.5 988.0L677.0 993.5L677.5 998.7L678.0 1004.3L678.5 1006.5L679.0 1008.6L679.5 1010.7L680.0 1013.9L680.5 1015.8L681.0 1017.3L681.5 1019.1L682.0 1019.7L682.5 1020.0L683.0 1022.1L683.5 1023.4L684.0 1022.4L684.5 1022.4L685.5 1022.0L686.5 1024.6L687.5 1025.9L688.5 1024.7L689.5 1022.9L690.5 1023.6L691.5 1024.9L692.5 1024.2L693.5 1025.6L694.5 1025.3L695.5 1027.3L696.5 1026.2L697.5 1028.9L698.5 1030.5L699.5 1030.6L700.5 1027.0L701.5 1030.7L702.5 1029.1L703.5 1029.7L704.5 1029.3L705.5 1029.7L706.5 1029.4L707.5 1028.9L708.5 1028.8L709.5 1027.9L710.5 1030.3L711.5 1029.4L712.5 1028.8L713.5 1030.6L714.5 1030.0L715.5 1028.7L716.5 1028.4L717.5 1025.8L718.5 1027.0L719.5 1028.7L720.5 1029.2L721.5 1029.0L722.5 1026.2L723.5 1027.5L724.5 1029.4L725.5 1030.8L726.5 1027.5L727.5 1027.6L728.5 1026.6L729.5 1028.3L730.5 1029.4L731.5 1030.4L732.5 1028.9L733.5 1030.0L734.5 1028.3L735.5 1029.3L736.5 1026.8L737.5 1030.9L738.5 1027.8L739.5 1029.7L740.5 1029.6L741.5 1027.7L742.5 1027.9L743.5 1030.1L744.5 1028.2L745.5 1028.3L746.5 1028.5L747.5 1028.4L748.5 1028.4L749.5 1031.0L750.5 1028.9L751.5 1029.5L752.5 1028.7L753.5 1027.5L754.5 1027.1L755.5 1025.9L756.5 1027.9L757.5 1027.1L758.5 1027.6L759.5 1027.9L760.5 1029.2L761.5 1027.8L762.5 1026.5L763.5 1027.7L764.5 1025.7L765.5 1028.8L766.5 1030.9L767.5 1027.4L768.5 1028.7L769.5 1030.4L770.5 1026.5L771.5 1028.2L772.5 1028.3L773.5 1030.2L774.5 1028.5L775.5 1026.9L776.5 1027.1L777.5 1027.4L778.5 1028.1L779.5 1029.6L780.5 1029.6L781.5 1028.4L782.5 1029.6L783.5 1026.3L784.5 1028.8L785.5 1030.7L786.5 1027.9L787.5 1027.7L788.5 1030.3L789.5 1030.4L790.5 1027.5L791.5 1024.4L792.5 1028.2L793.5 1029.9L794.5 1026.3L795.5 1031.2L796.5 1025.7L797.5 1028.4L798.5 1028.5L799.5 1028.5L800.5 1026.6L801.5 1029.0L802.5 1025.9L803.5 1028.2L804.5 1027.7L805.5 1028.4L806.5 1027.2L807.5 1027.1L808.5 1025.6L809.5 1030.8L810.5 1028.8L811.5 1026.9L812.5 1028.3L813.5 1028.5L814.5 1030.9L815.5 1027.4L816.5 1030.2L817.5 1026.9L818.5 1028.8L819.5 1029.6L820.5 1029.0L821.5 1030.6L822.5 1029.5L823.5 1028.0L824.5 1028.3L825.5 1030.7L826.5 1028.6L827.5 1028.2L828.5 1026.0L829.5 1026.2L830.5 1026.8L831.5 1029.1L832.5 1030.0L833.5 1027.4L834.5 1031.8L835.5 1029.2L836.5 1028.8L837.5 1029.1L838.5 1027.6L839.5 1030.0L840.5 1028.5L841.5 1030.0L842.5 1026.1L843.5 1026.5L844.5 1028.9L845.5 1030.3L846.5 1027.7L847.5 1027.2L848.5 1028.0L849.5 1027.2L850.5 1025.3L851.5 1025.2L852.5 1028.8L853.5 1026.3L854.5 1028.1L855.5 1025.3L856.5 1028.9L857.5 1030.2L858.5 1028.3L859.5 1031.2L860.5 1030.4L861.5 1033.9L862.5 1030.3L863.5 1030.5L864.5 1030.0L865.5 1031.3L866.5 1032.4L867.5 1030.4L868.5 1033.4L869.5 1030.9L870.5 1031.9L871.5 1033.3L872.5 1030.0L873.5 1029.8L874.5 1029.1L875.5 1028.0L876.5 1029.2L877.5 1025.4L878.5 1027.1L879.5 1028.3L880.5 1028.6L881.5 1027.1L882.5 1026.8L883.5 1031.0L884.5 1030.1L885.5 1030.8L886.5 1029.3L887.5 1030.6L888.5 1028.8L889.5 1026.9L890.5 1029.1L891.5 1031.0L892.5 1026.5L893.5 1028.0L894.5 1028.4L895.5 1028.9L896.5 1027.6L897.5 1029.3L898.5 1029.5L899.5 1031.5L900.5 1027.3L901.5 1029.0L902.5 1026.8L903.5 1030.1L904.5 1028.4L905.5 1028.9L906.5 1028.6L907.5 1030.8L908.5 1027.6L909.5 1028.7L910.5 1028.4L911.5 1026.4L912.5 1025.9L913.5 1030.3L914.5 1029.8L915.5 1031.1L916.5 1029.9L917.5 1029.7L918.5 1029.1L919.5 1030.9L920.5 1030.0L921.5 1030.2L922.5 1032.1L923.5 1031.1L924.5 1029.5L925.5 1031.4L926.5 1028.7L927.5 1031.8L928.5 1031.7L929.5 1030.0L930.5 1032.5L931.5 1028.2L932.5 1029.4L933.5 1028.3L934.5 1030.6L935.5 1028.7L936.5 1026.4L937.5 1026.7L938.5 1025.2L939.5 1027.6L940.5 1025.7L941.5 1026.5L942.5 1028.6L943.5 1027.9L944.5 1028.9L945.5 1028.5L946.5 1028.7L947.5 1027.6L948.5 1027.1L949.5 1030.6L950.5 1029.6L951.5 1030.8L952.5 1030.2L953.5 1029.4L954.5 1029.1L955.5 1030.3L956.5 1024.4L957.5 1026.0L958.5 1028.3L959.5 1027.3L960.5 1026.0L961.5 1026.4L962.5 1028.8L963.5 1027.9L964.5 1027.5L965.5 1025.1L966.5 1029.5L967.5 1027.3L968.5 1029.2L969.5 1029.1L970.5 1026.2L971.5 1026.9L972.5 1026.8L973.5 1027.5L974.5 1029.5L975.5 1029.7L976.5 1028.8L977.5 1027.9L978.5 1026.8L979.5 1029.9L980.5 1027.1L981.5 1025.6L982.5 1026.7L983.5 1027.4L984.5 1026.6L985.5 1025.5L986.5 1024.2L987.5 1027.5L988.5 1025.5L989.5 1028.0L990.5 1027.8L991.5 1028.5L992.5 1027.0L993.5 1028.5L994.5 1026.8L995.5 1028.5L996.5 1030.6L997.5 1031.3L998.5 1025.8L999.5 1028.6L1000.5 1027.4L1001.5 1027.1L1002.5 1028.8L1003.5 1025.5L1004.5 1028.5L1005.5 1026.7L1006.5 1030.3L1007.5 1029.5L1008.5 1032.2L1009.5 1030.5L1010.5 1028.9L1011.5 1026.9L1012.5 1025.9L1013.5 1029.6L1014.5 1028.8L1015.5 1030.7L1016.5 1027.4L1017.5 1028.7L1018.5 1027.8L1019.5 1030.1L1020.5 1029.4L1021.5 1025.9L1022.5 1027.6L1023.5 1028.7L1024.5 1028.0L1025.5 1029.7L1026.5 1027.2L1027.5 1026.0L1028.5 1026.8L1029.5 1026.7L1030.5 1031.6L1031.5 1029.5L1032.5 1030.5L1033.5 1031.3L1034.5 1029.4L1035.5 1024.9L1036.5 1024.2L1037.5 1028.3L1038.5 1028.4L1039.5 1025.5L1040.5 1028.6L1041.5 1029.7L1042.5 1028.8L1043.5 1026.3L1044.5 1030.8L1045.5 1027.6L1046.5 1030.2L1047.5 1027.4L1048.5 1027.5L1049.5 1029.1L1050.5 1026.3L1051.5 1025.6L1052.5 1028.2L1053.5 1027.9L1054.5 1026.2L1055.5 1028.5L1056.5 1028.4L1057.5 1028.2L1058.5 1030.8L1059.5 1027.1L1060.5 1030.0L1061.5 1027.4L1062.5 1025.6L1063.5 1026.8L1064.5 1026.2L1065.5 1026.3L1066.5 1029.7L1067.5 1026.8L1068.5 1028.5L1069.5 1029.4L1070.5 1029.1L1071.5 1030.3L1072.5 1027.0L1073.5 1027.4L1074.5 1029.9L1075.5 1029.4L1076.5 1027.6L1077.5 1026.4L1078.5 1026.5L1079.5 1028.9L1080.5 1030.8L1081.5 1026.7L1082.5 1027.9L1083.5 1026.6L1084.5 1030.0L1085.5 1028.4L1086.5 1029.3L1087.5 1027.8L1088.5 1030.7L1089.5 1029.5L1090.5 1030.7L1091.5 1028.5L1092.5 1027.5L1093.5 1029.1L1094.5 1029.3L1095.5 1030.6L1096.5 1030.0L1097.5 1025.6L1098.5 1024.8L1099.5 1029.7L1100.5 1027.0L1101.5 1027.4L1102.5 1028.7L1103.5 1027.6L1104.5 1027.0L1105.5 1028.1L1106.5 1026.9L1107.5 1027.1L1108.5 1025.8L1109.5 1027.2L1110.5 1026.1L1111.5 1029.2L1112.5 1028.8L1113.5 1028.7L1114.5 1030.3L1115.5 1029.5L1116.5 1030.4L1117.5 1029.6L1118.5 1026.1L1119.5 1029.5L1120.5 1029.3L1121.5 1026.9L1122.5 1030.5L1123.5 1024.3L1124.5 1027.9L1125.5 1025.9L1126.5 1027.0L1127.5 1029.2L1128.5 1029.9L1129.5 1030.0L1130.5 1026.8L1131.5 1030.6L1132.5 1028.8L1133.5 1029.7L1134.5 1029.7L1135.5 1027.5L1136.5 1031.1L1137.5 1028.7L1138.5 1027.2L1139.5 1027.4L1140.5 1027.1L1141.5 1026.3L1142.5 1028.5L1143.5 1029.0L1144.5 1029.8L1145.5 1031.4L1146.5 1029.7L1147.5 1024.9L1148.5 1030.3L1149.5 1028.7L1150.5 1029.9L1151.5 1030.0L1152.5 1029.2L1153.5 1029.8L1154.5 1029.7L1155.5 1031.7L1156.5 1027.6L1157.5 1026.8L1158.5 1028.1L1159.5 1031.9L1160.5 1025.1L1161.5 1027.2L1162.5 1026.2L1163.5 1027.3L1164.5 1027.9L1165.5 1025.5L1166.5 1029.1L1167.5 1030.3L1168.5 1026.9L1169.5 1029.2L1170.5 1026.6L1171.5 1026.7L1172.5 1028.9L1173.5 1028.7L1174.5 1025.9L1175.5 1027.8L1176.5 1029.3L1177.5 1026.7L1178.5 1025.2L1179.5 1028.6L1180.5 1029.5L1181.5 1028.2L1182.5 1029.3L1183.5 1027.5L1184.5 1028.9L1185.5 1028.3L1186.5 1029.0L1187.5 1030.1L1188.5 1028.5L1189.5 1028.7L1190.5 1027.0L1191.5 1026.4L1192.5 1028.3L1193.5 1029.1L1194.5 1028.7L1195.5 1028.9L1196.5 1028.0L1197.5 1028.6L1198.5 1028.1L1199.5 1028.8L1200.5 1030.6L1201.5 1030.0L1202.5 1028.0L1203.5 1028.8L1204.5 1028.5L1205.5 1029.8L1206.5 1030.5L1207.5 1025.3L1208.5 1028.7L1209.5 1028.1L1210.5 1031.7L1211.5 1027.5L1212.5 1029.3L1213.5 1030.7L1214.5 1027.6L1215.5 1027.7L1216.5 1027.6L1217.5 1027.6L1218.5 1026.4L1219.5 1028.0L1220.5 1026.8L1221.5 1026.4L1222.5 1029.1L1223.5 1025.6L1224.5 1029.3L1225.5 1027.8L1226.5 1028.4L1227.5 1027.6L1228.5 1028.6L1229.5 1029.4L1230.5 1027.3L1231.5 1030.1L1232.5 1025.5L1233.5 1027.5L1234.5 1026.0L1235.5 1027.1L1236.5 1028.3L1237.5 1026.5L1238.5 1027.6L1239.5 1026.4L1240.5 1028.3L1241.5 1024.5L1242.5 1024.4L1243.5 1026.4L1244.5 1023.8L1245.5 1026.4L1246.5 1025.9L1247.5 1024.6L1248.5 1025.4L1249.5 1026.5L1250.5 1026.3L1250.6 1026.1L1251.5 1026.4L1251.6 1025.1L1252.5 1025.1L1252.6 1025.9L1253.5 1024.8L1253.6 1023.1L1254.5 1021.2L1254.6 1021.3L1255.5 1019.9L1255.6 1020.3L1256.5 1016.9L1256.6 1016.2L1257.5 1013.1L1257.6 1011.5L1258.5 1007.1L1258.6 1006.8L1259.5 1001.4L1259.6 1000.9L1260.5 998.2L1260.6 998.2L1261.5 1000.7L1261.6 1000.4L1262.5 1004.8L1262.6 1005.6L1263.5 1009.6L1263.6 1010.6L1264.5 1014.5L1264.6 1015.2L1265.5 1017.9L1265.6 1018.5L1266.5 1021.6L1266.6 1020.6L1267.5 1022.9L1267.6 1024.0L1268.5 1025.3L1268.6 1023.9L1269.5 1024.2L1269.6 1025.6L1270.5 1023.3L1270.6 1026.0L1271.5 1023.0L1272.5 1024.3L1273.5 1026.6L1274.5 1025.3L1275.5 1024.7L1276.5 1027.5L1277.5 1027.0L1278.5 1026.4L1279.5 1027.6L1280.5 1028.4L1281.5 1027.6L1282.5 1029.1L1283.5 1029.3L1284.5 1027.1L1285.5 1029.5L1286.5 1028.9L1287.5 1028.9L1288.5 1026.9L1289.5 1028.8L1290.5 1025.2L1291.5 1026.5L1292.5 1026.1L1293.5 1026.3L1294.5 1026.3L1295.5 1027.3L1296.5 1027.9L1297.5 1029.9L1298.5 1026.7L1299.5 1028.4L1300.5 1027.6L1301.5 1028.1L1302.5 1026.9L1303.5 1026.9L1304.5 1029.1L1305.5 1027.2L1306.5 1028.4L1307.5 1025.8L1308.5 1028.1L1309.5 1027.9L1310.5 1027.5L1311.5 1028.7L1312.5 1026.9L1313.5 1026.0L1314.5 1027.7L1315.5 1027.7L1316.5 1030.0L1317.5 1027.0L1318.5 1028.1L1319.5 1030.6L1320.5 1028.8L1321.5 1032.9L1322.5 1032.9L1323.5 1029.3L1324.5 1029.6L1325.5 1030.4L1326.5 1028.1L1327.5 1027.7L1328.5 1030.6L1329.5 1030.2L1330.5 1028.2L1331.5 1027.5L1332.5 1026.8L1333.5 1026.7L1334.5 1029.7L1335.5 1028.7L1336.5 1027.7L1337.5 1025.3L1338.5 1026.3L1339.5 1027.8L1340.5 1026.1L1341.5 1028.3L1342.5 1027.1L1343.5 1024.7L1344.5 1029.3L1345.5 1027.8L1346.5 1026.2L1347.5 1028.6L1348.5 1026.5L1349.5 1029.9L1350.5 1028.0L1351.5 1028.5L1352.5 1029.8L1353.5 1026.5L1354.5 1028.6L1355.5 1029.7L1356.5 1028.7L1357.5 1026.1L1358.5 1028.3L1359.5 1030.2L1360.5 1026.1L1361.5 1026.3L1362.5 1027.7L1363.5 1026.8L1364.5 1027.2L1365.5 1030.8L1366.5 1027.9L1367.5 1030.2L1368.5 1027.1L1369.5 1024.5L1370.5 1029.2L1371.5 1030.7L1372.5 1028.8L1373.5 1031.3L1374.5 1028.8L1375.5 1029.5L1376.5 1029.0L1377.5 1027.3L1378.5 1031.3L1379.5 1031.6L1380.5 1031.0L1381.5 1031.3L1382.5 1031.2L1383.5 1029.9L1384.5 1030.2L1385.5 1029.1L1386.5 1027.5L1387.5 1028.9L1388.5 1029.6L1389.5 1027.1L1390.5 1027.7L1391.5 1029.9L1392.5 1028.3L1393.5 1032.9L1394.5 1029.9L1395.5 1030.8L1396.5 1030.7L1397.5 1030.6L1398.5 1029.3L1399.5 1029.2L1400.5 1028.4L1401.5 1027.8L1402.5 1029.1L1403.5 1027.7L1404.5 1030.2L1405.5 1028.6L1406.5 1029.1L1407.5 1029.2L1408.5 1031.0L1409.5 1029.2L1410.5 1029.3L1411.5 1032.6L1412.5 1030.2L1413.5 1032.3L1414.5 1030.0L1415.5 1030.8L1416.5 1031.3L1417.5 1029.1L1418.5 1033.3L1419.5 1033.8L1420.5 1031.2L1421.5 1033.1L1422.5 1031.7L1423.5 1031.0L1424.5 1034.0L1425.5 1030.2L1426.5 1031.4L1427.5 1032.6L1428.5 1030.4L1429.5 1031.3L1430.5 1028.4L1431.5 1030.7L1432.5 1030.8L1433.5 1028.4L1434.5 1028.7L1435.5 1028.8L1436.5 1029.6L1437.5 1030.6L1438.5 1029.7L1439.5 1028.2L1440.5 1030.4L1441.5 1032.4L1442.5 1030.5L1443.5 1030.5L1444.5 1031.5L1445.5 1032.6L1446.5 1030.2L1447.5 1034.4L1448.5 1031.2L1449.5 1034.6L1450.5 1031.5L1451.5 1031.5L1452.5 1033.2L1453.5 1034.1L1454.5 1033.5L1455.5 1032.8L1456.5 1033.5L1457.5 1033.9L1458.5 1035.7L1459.5 1032.9L1460.5 1033.7L1461.5 1031.8L1462.5 1032.0L1463.5 1030.7L1464.5 1031.6L1465.5 1031.1L1466.5 1029.8L1467.5 1032.8L1468.5 1032.8L1469.5 1033.0L1470.5 1035.9L1471.5 1029.7L1472.5 1033.9L1473.5 1033.3L1474.5 1034.5L1475.5 1031.6L1476.5 1032.2L1477.5 1031.5L1478.5 1034.1L1479.5 1036.0L1480.5 1032.3L1481.5 1033.5L1482.5 1033.8L1483.5 1032.9L1484.5 1031.0L1485.5 1035.1L1486.5 1030.6L1487.5 1035.3L1488.5 1031.8L1489.5 1035.4L1490.5 1036.0L1491.5 1033.1L1492.5 1031.8L1493.5 1033.5L1494.5 1033.7L1495.5 1032.0L1496.5 1032.9L1497.5 1034.0L1498.5 1033.3L1499.5 1034.1L1500.5 1030.5L1501.5 1031.5L1502.5 1033.3L1503.5 1033.5L1504.5 1035.1L1505.5 1032.4L1506.5 1036.9L1507.5 1036.5L1508.5 1035.8L1509.5 1033.5L1510.5 1032.5L1511.5 1032.1L1512.5 1035.7L1513.5 1034.0L1514.5 1036.6L1515.5 1034.4L1516.5 1031.7L1517.5 1035.8L1518.5 1033.6L1519.5 1033.8L1520.5 1034.7L1521.5 1031.8L1522.5 1032.0L1523.5 1036.0L1524.5 1031.7L1525.5 1032.0L1526.5 1031.2L1527.5 1032.0L1528.5 1032.8L1529.5 1031.7L1530.5 1030.8L1531.5 1031.6L1532.5 1033.3L1533.5 1029.3L1534.5 1031.8L1535.5 1032.2L1536.5 1029.8L1537.5 1034.0L1538.5 1032.9L1539.5 1032.1L1540.5 1033.2L1541.5 1032.9L1542.5 1032.4L1543.5 1032.4L1544.5 1031.5L1545.5 1033.8L1546.5 1033.8L1547.5 1032.3L1548.5 1034.8L1549.5 1036.3L1550.5 1031.9L1551.5 1036.5L1552.5 1036.1L1553.5 1035.5L1554.5 1033.4L1555.5 1036.1L1556.5 1033.4L1557.5 1035.1L1558.5 1033.7L1559.5 1032.7L1560.5 1036.1L1561.5 1037.1L1562.5 1033.3L1563.5 1035.6L1564.5 1034.5L1565.5 1034.0L1566.5 1034.4L1567.5 1036.2L1568.5 1036.4L1569.5 1034.4L1570.5 1033.7L1571.5 1034.9L1572.5 1032.5L1573.5 1034.3L1574.5 1033.3L1575.5 1034.9L1576.5 1031.9L1577.5 1034.9L1578.5 1033.7L1579.5 1034.2L1580.5 1034.4L1581.5 1036.3L1582.5 1034.3L1583.5 1032.0L1584.5 1035.7L1585.5 1036.1L1586.5 1034.7L1587.5 1037.5L1588.5 1037.9L1589.5 1034.4L1590.5 1034.8L1591.5 1034.1L1592.5 1038.1L1593.5 1033.2L1594.5 1033.6L1595.5 1035.3L1596.5 1035.4L1597.5 1034.9L1598.5 1034.0L1599.5 1033.9L1600.5 1033.9L1601.5 1033.0L1602.5 1032.2L1603.5 1033.0L1604.5 1033.7L1605.5 1034.9L1606.5 1034.6L1607.5 1032.9L1608.5 1034.8L1609.5 1035.5L1610.5 1033.5L1611.5 1033.7L1612.5 1035.6L1613.5 1035.8L1614.5 1033.9L1615.5 1033.5L1616.5 1034.2L1617.5 1033.2L1618.5 1033.2L1619.5 1031.1L1620.5 1033.2L1621.5 1035.5L1622.5 1032.2L1623.5 1032.3L1624.5 1033.7L1625.5 1033.6L1626.5 1035.0L1627.5 1032.0L1628.5 1032.9L1629.5 1031.0L1630.5 1030.7L1631.5 1030.7L1632.5 1031.1L1633.5 1031.3L1634.5 1030.3L1635.5 1028.7L1636.5 1028.9L1637.5 1027.0L1638.5 1026.5L1639.0 1026.6L1639.5 1026.7L1640.0 1026.4L1640.5 1027.1L1641.0 1024.7L1641.5 1024.7L1642.0 1023.8L1642.5 1023.0L1643.0 1021.7L1643.5 1019.9L1644.0 1019.6L1644.5 1018.3L1645.0 1017.5L1645.5 1016.8L1646.0 1015.0L1646.5 1014.6L1647.0 1013.0L1647.5 1012.8L1648.0 1011.4L1648.5 1010.7L1649.0 1010.3L1649.5 1010.3L1650.0 1010.3L1650.5 1011.5L1651.0 1012.8L1651.5 1013.8L1652.0 1014.9L1652.5 1016.9L1653.0 1019.1L1653.5 1020.8L1654.0 1020.3L1654.5 1022.2L1655.0 1022.6L1655.5 1024.7L1656.0 1023.5L1656.5 1024.9L1657.0 1025.4L1657.5 1025.9L1658.0 1027.6L1658.5 1027.2L1659.0 1027.0L1659.5 1030.1L1660.5 1029.5L1661.5 1031.0L1662.5 1031.9L1663.5 1029.6L1664.5 1031.2L1665.5 1032.7L1666.5 1032.1L1667.5 1035.2L1668.5 1031.9L1669.5 1034.6L1670.5 1033.0L1671.5 1033.8L1672.5 1032.8L1673.5 1034.0L1674.5 1034.4L1675.5 1034.0L1676.5 1032.7L1677.5 1030.1L1678.5 1032.7L1679.5 1029.5L1680.5 1033.6L1681.5 1030.9L1682.5 1030.0L1683.5 1030.3L1684.5 1031.9L1685.5 1030.7L1686.5 1031.6L1687.5 1030.7L1688.5 1033.8L1689.5 1035.1L1690.5 1033.0L1691.5 1031.4L1692.5 1031.1L1693.5 1032.3L1694.5 1035.3L1695.5 1032.4L1696.5 1030.1L1697.5 1036.2L1698.5 1034.7L1699.5 1035.1L1700.5 1032.4L1701.5 1034.1L1702.5 1031.4L1703.5 1031.8L1704.5 1033.5L1705.5 1031.3L1706.5 1033.0L1707.5 1031.0L1708.5 1034.1L1709.5 1032.5L1710.5 1033.5L1711.5 1033.8L1712.5 1032.5L1713.5 1033.2L1714.5 1032.9L1715.5 1030.2L1716.5 1033.6L1717.5 1034.4L1718.5 1034.3L1719.5 1032.3L1720.5 1033.6L1721.5 1031.2L1722.5 1032.5L1723.5 1030.3L1724.5 1032.3L1725.5 1034.0L1726.5 1031.3L1727.5 1033.5L1728.5 1037.4L1729.5 1035.3L1730.5 1034.1L1731.5 1035.0L1732.5 1034.2L1733.5 1032.5L1734.5 1037.2L1735.5 1034.8L1736.5 1034.8L1737.5 1034.3L1738.5 1031.5L1739.5 1032.8L1740.5 1034.6L1741.5 1032.8L1742.5 1032.9L1743.5 1033.0L1744.5 1032.8L1745.5 1035.7L1746.5 1034.1L1747.5 1036.6L1748.5 1035.3L1749.5 1031.9L1750.5 1033.2L1751.5 1033.7L1752.5 1036.3L1753.5 1033.7L1754.5 1034.3L1755.5 1034.5L1756.5 1032.6L1757.5 1031.0L1758.5 1032.7L1759.5 1033.5L1760.5 1031.4L1761.5 1032.2L1762.5 1030.2L1763.5 1029.9L1764.5 1030.3L1765.5 1031.7L1766.5 1029.4L1767.5 1031.0L1768.5 1030.0L1769.5 1029.1L1770.5 1030.9L1771.5 1031.7L1772.0 1028.9L1772.5 1032.9L1773.0 1030.7L1773.5 1029.8L1774.0 1030.1L1774.5 1027.8L1775.0 1029.4L1775.5 1028.1L1776.0 1026.4L1776.5 1026.1L1777.0 1026.3L1777.5 1025.8L1778.0 1025.6L1778.5 1024.6L1779.0 1024.2L1779.5 1024.6L1780.0 1024.6L1780.5 1023.8L1781.0 1023.1L1781.5 1022.1L1782.0 1022.3L1782.5 1023.7L1783.0 1024.0L1783.5 1024.5L1784.0 1023.6L1784.5 1024.8L1785.0 1024.5L1785.5 1026.0L1786.0 1027.2L1786.5 1029.0L1787.0 1030.3L1787.5 1028.6L1788.0 1030.0L1788.5 1029.2L1789.0 1029.2L1789.5 1029.6L1790.0 1031.5L1790.5 1030.7L1791.0 1031.3L1791.5 1031.1L1792.0 1030.8L1792.5 1029.2L1793.5 1032.1L1794.5 1033.7L1795.5 1032.5L1796.5 1033.8L1797.5 1031.8L1798.5 1034.4L1799.5 1035.4L1800.5 1034.4L1801.5 1035.0L1802.5 1032.8L1803.5 1036.4L1804.5 1033.5L1805.5 1035.4L1806.5 1038.1L1807.5 1036.3L1808.5 1036.1L1809.5 1035.7L1810.5 1033.8L1811.5 1033.5L1812.5 1035.7L1813.5 1033.3L1814.5 1034.2L1815.5 1032.1L1816.5 1033.4L1817.5 1032.0L1818.5 1034.0L1819.5 1033.9L1820.5 1034.2L1821.5 1033.8L1822.5 1034.1L1823.5 1035.7L1824.5 1034.8L1825.5 1034.7L1826.5 1034.7L1827.5 1031.1L1828.5 1033.4L1829.5 1034.7L1830.5 1034.4L1831.5 1035.1L1832.5 1032.1L1833.5 1035.2L1834.5 1034.1L1835.5 1034.7L1836.5 1037.1L1837.5 1035.2L1838.5 1034.0L1839.5 1033.3L1840.5 1036.0L1841.5 1032.0L1842.5 1033.8L1843.5 1030.9L1844.5 1034.4L1845.5 1033.5L1846.5 1034.1L1847.5 1033.5L1848.5 1037.3L1849.5 1035.5L1850.5 1035.2L1851.5 1033.6L1852.5 1036.0L1853.5 1034.3L1854.5 1033.7L1855.5 1032.2L1856.5 1034.5L1857.5 1031.2L1858.5 1034.0L1859.5 1032.2L1860.5 1035.6L1861.5 1036.5L1862.5 1037.2L1863.5 1033.9L1864.5 1037.0L1865.5 1039.0L1866.5 1034.6L1867.5 1033.6L1868.5 1034.0L1869.5 1034.0L1870.5 1036.0L1871.5 1033.9L1872.0 1034.5L1878.0 1034.5"/>
</g>
<rect x="1876.5" y="22" width="8.7" height="1273.5" fill="#000"/>
<text class="tick" x="169.0" y="1378">30</text>
<text class="tick" x="413.6" y="1378">40</text>
<text class="tick" x="658.1" y="1378">50</text>
<text class="tick" x="902.7" y="1378">60</text>
<text class="tick" x="1147.3" y="1378">70</text>
<text class="tick" x="1391.9" y="1378">80</text>
<text class="tick" x="1636.4" y="1378">90</text>
<text class="tick" x="1883.0" y="1378">100</text>
<text transform="translate(760.3,1507.0) scale(1.0194,1)" font-size="106" class="b">2<tspan font-weight="normal">θ</tspan>(degree)</text>
<text class="b" transform="translate(104,1041.0) rotate(-90) scale(1.0065,1)" font-size="105">intensity(a.u.)</text>
<text transform="translate(843.8,305.0) scale(1.0043,1)" font-size="77" fill="#111">500mm/s</text>
<text transform="translate(828.7,548.5) scale(0.9978,1)" font-size="77" fill="#111">1000mm/s</text>
<text transform="translate(834.9,756.0) scale(0.9911,1)" font-size="77" fill="#111">1500mm/s</text>
<text transform="translate(817.5,990.0) scale(1.0069,1)" font-size="77" fill="#111">2000mm/s</text>
<text transform="translate(311.8,883.0) scale(1.0733,1)" font-size="76" class="b">(111)</text>
<text transform="translate(633.7,910.0) scale(1.0266,1)" font-size="76" class="b">(200)</text>
<text transform="translate(1182.9,954.0) scale(1.0190,1)" font-size="76" class="b">(220)</text>
<text transform="translate(1565.9,886.0) scale(1.0435,1)" font-size="76" class="b">(311)</text>
<text transform="translate(1707.3,949.0) scale(0.9981,1)" font-size="76" class="b">(222)</text>
<text class="ast" transform="translate(495.0,196.0) scale(0.800,1)" font-size="146" stroke="#000" stroke-width="5" stroke-linejoin="round">*</text>
<text class="ast" transform="translate(675.7,278.5) scale(0.800,1)" font-size="146" stroke="#000" stroke-width="5" stroke-linejoin="round">*</text>
<text class="ast" transform="translate(1262.0,349.5) scale(0.800,1)" font-size="146" stroke="#000" stroke-width="5" stroke-linejoin="round">*</text>
<text class="ast" transform="translate(1630.0,347.5) scale(0.800,1)" font-size="146" stroke="#000" stroke-width="5" stroke-linejoin="round">*</text>
<text class="ast" transform="translate(1773.5,372.5) scale(0.800,1)" font-size="146" stroke="#000" stroke-width="5" stroke-linejoin="round">*</text>
<text class="ast" transform="translate(1354.5,195.7) scale(0.880,1)" font-size="136" stroke="#000" stroke-width="2.5" stroke-linejoin="round">*</text>
<text class="b" transform="translate(1409,156.8) scale(1.106,1)" font-size="94" letter-spacing="4.5">––</text>
<text transform="translate(1533.8,151.7) scale(0.9940,1)" font-size="100">γ<tspan font-weight="bold">-</tspan>phase</text>
</g></svg></body></html>
